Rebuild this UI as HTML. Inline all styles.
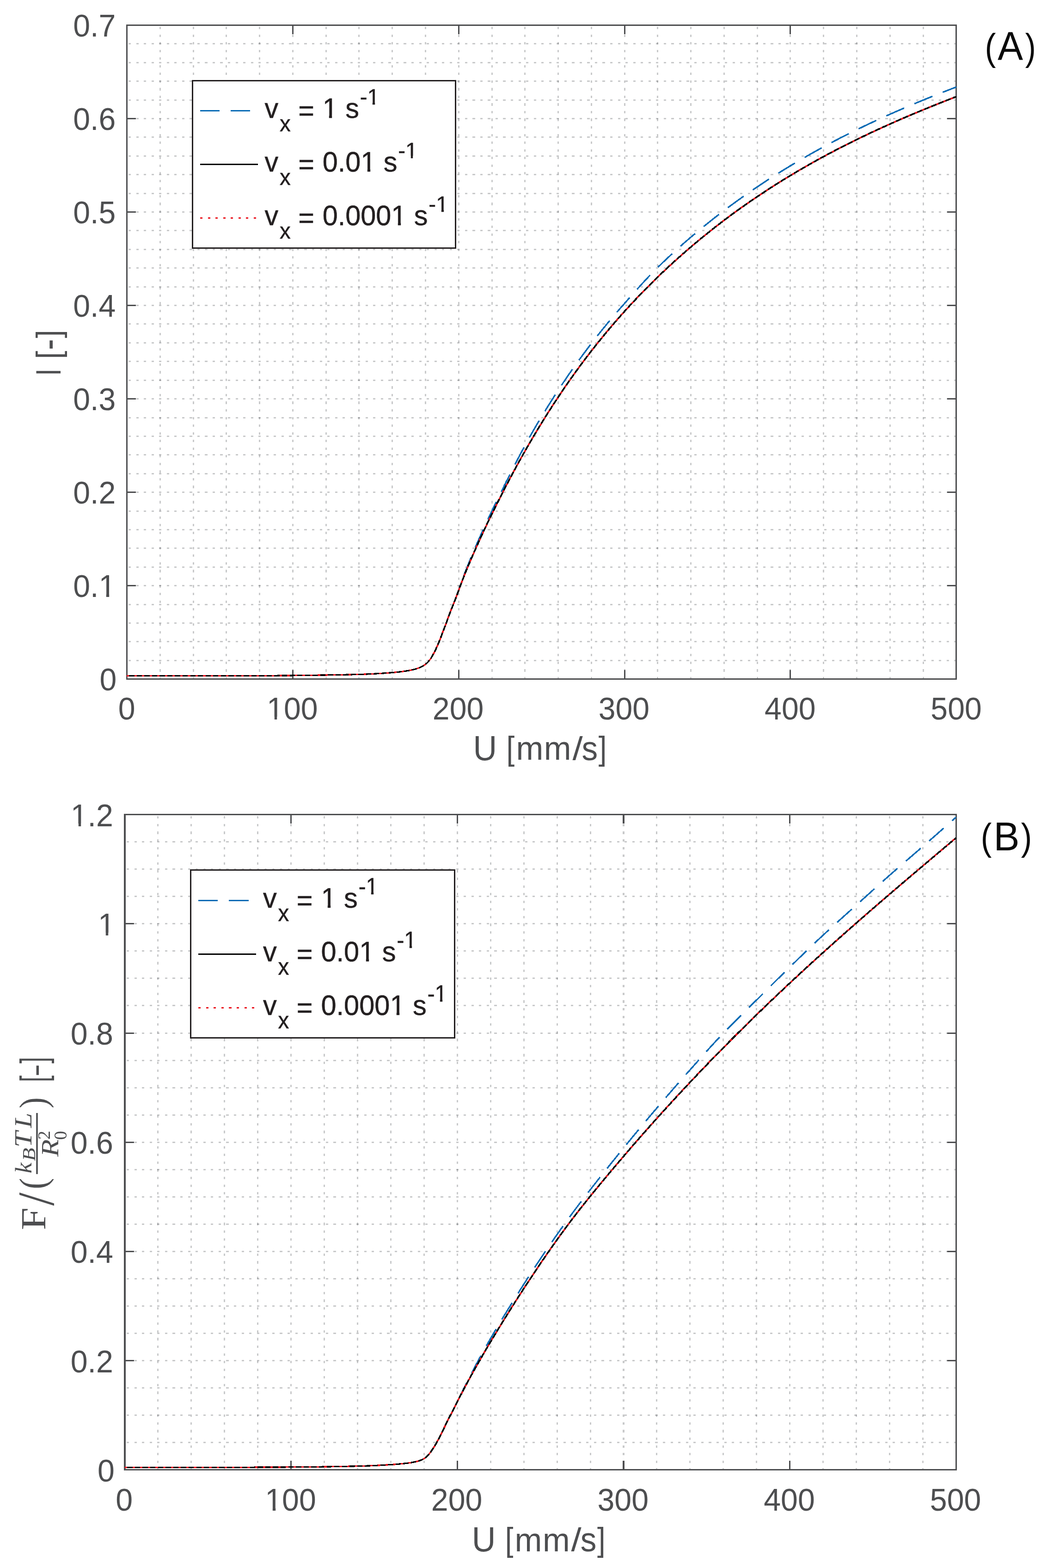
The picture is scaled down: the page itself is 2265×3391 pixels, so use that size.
<!DOCTYPE html>
<html lang="en"><head><meta charset="utf-8"><title>Figure</title>
<style>html,body{margin:0;padding:0;background:#fff}svg{display:block}</style></head><body>
<svg width="2265" height="3391" viewBox="0 0 2265 3391">
<rect width="2265" height="3391" fill="#fff"/>
<!-- panel A -->
<path d="M346.5 58V1468.68M418.5 58V1468.68M489.5 58V1468.68M561.5 58V1468.68M633.5 58V1468.68M705.5 58V1468.68M776.5 58V1468.68M848.5 58V1468.68M920.5 58V1468.68M992.5 58V1468.68M1064.5 58V1468.68M1135.5 58V1468.68M1207.5 58V1468.68M1279.5 58V1468.68M1351.5 58V1468.68M1422.5 58V1468.68M1494.5 58V1468.68M1566.5 58V1468.68M1638.5 58V1468.68M1709.5 58V1468.68M1781.5 58V1468.68M1853.5 58V1468.68M1925.5 58V1468.68M1997.5 58V1468.68" fill="none" stroke="#1a1c22" stroke-opacity="0.235" stroke-width="3" stroke-dasharray="5.2 11.34" shape-rendering="crispEdges"/>
<path d="M278 1428.5H2068.85M278 1387.5H2068.85M278 1347.5H2068.85M278 1307.5H2068.85M278 1266.5H2068.85M278 1226.5H2068.85M278 1185.5H2068.85M278 1145.5H2068.85M278 1105.5H2068.85M278 1064.5H2068.85M278 1024.5H2068.85M278 983.5H2068.85M278 943.5H2068.85M278 903.5H2068.85M278 862.5H2068.85M278 822.5H2068.85M278 781.5H2068.85M278 741.5H2068.85M278 700.5H2068.85M278 660.5H2068.85M278 620.5H2068.85M278 579.5H2068.85M278 539.5H2068.85M278 498.5H2068.85M278 458.5H2068.85M278 418.5H2068.85M278 377.5H2068.85M278 337.5H2068.85M278 296.5H2068.85M278 256.5H2068.85M278 216.5H2068.85M278 175.5H2068.85M278 135.5H2068.85M278 94.5H2068.85" fill="none" stroke="#1a1c22" stroke-opacity="0.235" stroke-width="3" stroke-dasharray="5.2 11.340" shape-rendering="crispEdges"/>
<path d="M633.5 1468.68V1449M633.5 54.5V74M992.5 1468.68V1449M992.5 54.5V74M1351.5 1468.68V1449M1351.5 54.5V74M1709.5 1468.68V1449M1709.5 54.5V74M274.5 1266.5H294M2068.85 1266.5H2049M274.5 1064.5H294M2068.85 1064.5H2049M274.5 862.5H294M2068.85 862.5H2049M274.5 660.5H294M2068.85 660.5H2049M274.5 458.5H294M2068.85 458.5H2049M274.5 256.5H294M2068.85 256.5H2049" fill="none" stroke="#4d4e50" stroke-width="3" shape-rendering="crispEdges"/>
<g fill="#4d4e50" shape-rendering="crispEdges"><rect x="273" y="53" width="3" height="1417"/><rect x="2067" y="53" width="3" height="1417"/><rect x="273" y="53" width="1797" height="3"/><rect x="273" y="1467" width="1797" height="3"/></g>
<clipPath id="aclip"><rect x="273.5" y="54.5" width="1796.35" height="1414.18"/></clipPath>
<g clip-path="url(#aclip)" fill="none" stroke-linejoin="round" shape-rendering="crispEdges">
<path d="M274 1461.67L276.5 1461.67L278.49 1461.67L280.49 1461.67L282.48 1461.67L284.48 1461.67L286.48 1461.67L288.47 1461.67L290.47 1461.67L292.46 1461.67L294.46 1461.67L296.46 1461.67L298.45 1461.67L300.45 1461.67L302.44 1461.67L304.44 1461.67L306.44 1461.66L308.43 1461.66L310.43 1461.66L312.42 1461.66L314.42 1461.66L316.41 1461.66L318.41 1461.66L320.41 1461.66L322.4 1461.66L324.4 1461.66L326.39 1461.66L328.39 1461.66L330.39 1461.66L332.38 1461.65L334.38 1461.65L336.37 1461.65L338.37 1461.65L340.37 1461.65L342.36 1461.65L344.36 1461.65L346.35 1461.65L348.35 1461.64L350.35 1461.64L352.34 1461.64L354.34 1461.64L356.33 1461.64L358.33 1461.64L360.33 1461.63L362.32 1461.63L364.32 1461.63L366.31 1461.63L368.31 1461.63L370.31 1461.63L372.3 1461.62L374.3 1461.62L376.29 1461.62L378.29 1461.62L380.28 1461.62L382.28 1461.61L384.28 1461.61L386.27 1461.61L388.27 1461.61L390.26 1461.61L392.26 1461.6L394.26 1461.6L396.25 1461.6L398.25 1461.6L400.24 1461.6L402.24 1461.59L404.24 1461.59L406.23 1461.59L408.23 1461.59L410.22 1461.58L412.22 1461.58L414.22 1461.58L416.21 1461.57L418.21 1461.57L420.2 1461.57L422.2 1461.57L424.2 1461.56L426.19 1461.56L428.19 1461.56L430.18 1461.56L432.18 1461.55L434.18 1461.55L436.17 1461.55L438.17 1461.54L440.16 1461.54L442.16 1461.54L444.15 1461.53L446.15 1461.53L448.15 1461.53L450.14 1461.52L452.14 1461.52L454.13 1461.52L456.13 1461.51L458.13 1461.51L460.12 1461.51L462.12 1461.5L464.11 1461.5L466.11 1461.5L468.11 1461.49L470.1 1461.49L472.1 1461.48L474.09 1461.48L476.09 1461.48L478.09 1461.47L480.08 1461.47L482.08 1461.47L484.07 1461.46L486.07 1461.46L488.07 1461.45L490.06 1461.45L492.06 1461.45L494.05 1461.44L496.05 1461.44L498.05 1461.43L500.04 1461.43L502.04 1461.42L504.03 1461.42L506.03 1461.42L508.02 1461.41L510.02 1461.41L512.02 1461.4L514.01 1461.4L516.01 1461.39L518 1461.39L520 1461.38L522 1461.38L523.99 1461.37L525.99 1461.37L527.98 1461.36L529.98 1461.36L531.98 1461.35L533.97 1461.35L535.97 1461.34L537.96 1461.34L539.96 1461.33L541.96 1461.33L543.95 1461.32L545.95 1461.32L547.94 1461.31L549.94 1461.31L551.94 1461.3L553.93 1461.3L555.93 1461.29L557.92 1461.29L559.92 1461.28L561.92 1461.28L563.91 1461.27L565.91 1461.27L567.9 1461.26L569.9 1461.25L571.9 1461.25L573.89 1461.24L575.89 1461.24L577.88 1461.23L579.88 1461.23L581.87 1461.22L583.87 1461.21L585.87 1461.21L587.86 1461.2L589.86 1461.19L591.85 1461.19L593.85 1461.18L595.85 1461.17L597.84 1461.16L599.84 1461.15L601.83 1461.13L603.83 1461.12L605.83 1461.11L607.82 1461.09L609.82 1461.08L611.81 1461.06L613.81 1461.04L615.81 1461.03L617.8 1461.01L619.8 1460.99L621.79 1460.97L623.79 1460.95L625.79 1460.93L627.78 1460.91L629.78 1460.89L631.77 1460.86L633.77 1460.84L635.77 1460.82L637.76 1460.8L639.76 1460.77L641.75 1460.75L643.75 1460.72L645.74 1460.7L647.74 1460.67L649.74 1460.65L651.73 1460.62L653.73 1460.6L655.72 1460.57L657.72 1460.54L659.72 1460.52L661.71 1460.49L663.71 1460.46L665.7 1460.44L667.7 1460.41L669.7 1460.38L671.69 1460.36L673.69 1460.33L675.68 1460.3L677.68 1460.27L679.68 1460.25L681.67 1460.22L683.67 1460.19L685.66 1460.17L687.66 1460.14L689.66 1460.11L691.65 1460.09L693.65 1460.06L695.64 1460.03L697.64 1460L699.64 1459.98L701.63 1459.95L703.63 1459.92L705.62 1459.89L707.62 1459.86L709.61 1459.83L711.61 1459.8L713.61 1459.77L715.6 1459.74L717.6 1459.71L719.59 1459.68L721.59 1459.65L723.59 1459.62L725.58 1459.58L727.58 1459.55L729.57 1459.52L731.57 1459.48L733.57 1459.45L735.56 1459.41L737.56 1459.38L739.55 1459.34L741.55 1459.3L743.55 1459.26L745.54 1459.22L747.54 1459.18L749.53 1459.14L751.53 1459.1L753.53 1459.06L755.52 1459.01L757.52 1458.97L759.51 1458.92L761.51 1458.87L763.51 1458.83L765.5 1458.78L767.5 1458.73L769.49 1458.68L771.49 1458.63L773.48 1458.57L775.48 1458.52L777.48 1458.46L779.47 1458.41L781.47 1458.35L783.46 1458.29L785.46 1458.22L787.46 1458.15L789.45 1458.08L791.45 1458.01L793.44 1457.93L795.44 1457.85L797.44 1457.76L799.43 1457.67L801.43 1457.58L803.42 1457.49L805.42 1457.39L807.42 1457.29L809.41 1457.18L811.41 1457.07L813.4 1456.96L815.4 1456.85L817.4 1456.73L819.39 1456.61L821.39 1456.49L823.38 1456.37L825.38 1456.24L827.38 1456.11L829.37 1455.97L831.37 1455.84L833.36 1455.7L835.36 1455.56L837.36 1455.41L839.35 1455.26L841.35 1455.11L843.34 1454.96L845.34 1454.8L847.33 1454.65L849.33 1454.49L851.33 1454.32L853.32 1454.14L855.32 1453.96L857.31 1453.76L859.31 1453.56L861.31 1453.34L863.3 1453.12L865.3 1452.89L867.29 1452.64L869.29 1452.39L871.29 1452.12L873.28 1451.85L875.28 1451.57L877.27 1451.27L879.27 1450.96L881.27 1450.65L883.26 1450.32L884.58 1450.09L885.26 1449.98L885.48 1449.94L886.39 1449.77L887.25 1449.61L887.29 1449.6L888.2 1449.43L889.1 1449.25L889.25 1449.22L890.01 1449.06L890.91 1448.87L891.25 1448.8L891.82 1448.67L892.72 1448.47L893.24 1448.35L893.63 1448.25L894.53 1448.03L895.24 1447.86L895.44 1447.81L896.34 1447.57L897.23 1447.34L897.25 1447.33L898.15 1447.08L899.05 1446.83L899.23 1446.78L899.96 1446.56L900.86 1446.29L901.23 1446.18L901.77 1446.01L902.67 1445.72L903.22 1445.54L903.58 1445.42L904.48 1445.11L905.22 1444.85L905.39 1444.79L906.29 1444.45L907.2 1444.09L907.21 1444.08L908.1 1443.71L909.01 1443.31L909.21 1443.22L909.91 1442.89L910.82 1442.45L911.2 1442.25L911.72 1441.99L912.63 1441.51L913.2 1441.2L913.53 1441.01L914.43 1440.5L915.2 1440.05L915.34 1439.96L916.24 1439.4L917.15 1438.83L917.19 1438.8L918.05 1438.23L918.96 1437.62L919.19 1437.46L919.86 1436.99L920.77 1436.34L921.18 1436.02L921.67 1435.63L922.58 1434.87L923.18 1434.33L923.48 1434.05L924.39 1433.18L925.18 1432.37L925.29 1432.25L926.2 1431.29L927.1 1430.27L927.17 1430.19L928.01 1429.22L928.91 1428.12L929.17 1427.8L929.81 1426.99L930.72 1425.76L931.16 1425.13L931.62 1424.45L932.53 1423.06L933.16 1422.05L933.43 1421.6L934.34 1420.08L935.16 1418.67" stroke="#0a6cb5" stroke-width="3.3" stroke-dasharray="42.1 24.06" stroke-dashoffset="0"/><path d="M935.16 1418.67L935.24 1418.51L936.15 1416.91L937.05 1415.27L937.15 1415.09L937.96 1413.61L938.86 1411.94L939.15 1411.41L939.77 1410.23L940.67 1408.45L941.14 1407.5L941.58 1406.61L942.48 1404.73L943.14 1403.33L943.39 1402.8L944.29 1400.83L945.14 1398.97L945.19 1398.84L946.1 1396.82L947 1394.76L947.13 1394.46L947.91 1392.64L948.81 1390.49L949.13 1389.73L949.72 1388.3L950.62 1386.07L951.12 1384.83L951.53 1383.82L952.43 1381.54L953.12 1379.77L953.34 1379.2L954.24 1376.79L955.12 1374.43L955.15 1374.35L956.05 1371.88L956.96 1369.43L957.11 1369.01L957.86 1367.01L958.77 1364.65L959.11 1363.77L959.67 1362.33L960.58 1360.04L961.1 1358.7L961.48 1357.75L962.38 1355.44L963.1 1353.59L963.29 1353.09L964.19 1350.69L965.1 1348.22L965.1 1348.22L966 1345.7L966.91 1343.15L967.09 1342.63L967.81 1340.6L968.72 1338.06L969.09 1337.04L969.62 1335.57L970.53 1333.1L971.08 1331.59L971.43 1330.64L972.34 1328.2L973.08 1326.21L973.24 1325.77L974.15 1323.38L975.05 1321.02L975.07 1320.96L975.96 1318.7L976.86 1316.44L977.07 1315.92L977.76 1314.21L978.67 1312L979.07 1311.02L979.57 1309.77L980.48 1307.51L981.06 1306.03L981.38 1305.2L982.29 1302.86L983.06 1300.84L983.19 1300.48L984.1 1298.09L985 1295.67L985.05 1295.53L985.91 1293.24L986.81 1290.79L987.05 1290.14L987.72 1288.32L988.62 1285.84L989.05 1284.66L989.53 1283.34L990.43 1280.84L991.04 1279.14L991.34 1278.33L992.24 1275.81L993.04 1273.58L995.03 1268.01L997.03 1262.45L999.03 1256.92L1001.02 1251.43L1003.02 1246.01L1005.01 1240.68L1007.01 1235.46L1009.01 1230.33L1011 1225.28L1013 1220.3L1014.99 1215.37L1016.99 1210.5L1018.99 1205.66L1020.98 1200.85L1022.98 1196.07L1024.97 1191.34L1026.97 1186.67L1028.97 1182.04L1030.96 1177.44L1032.96 1172.88L1034.95 1168.34L1036.95 1163.84L1038.94 1159.37L1040.94 1154.92L1042.94 1150.51L1044.93 1146.12L1046.93 1141.76L1048.92 1137.42L1050.92 1133.1L1052.92 1128.8L1054.91 1124.53L1056.91 1120.28L1058.9 1116.05L1060.9 1111.84L1062.9 1107.65L1064.89 1103.48L1066.89 1099.32L1068.88 1095.18L1070.88 1091.05L1072.88 1086.94L1074.87 1082.85L1076.87 1078.77L1078.86 1074.7L1080.86 1070.65L1082.86 1066.61L1084.85 1062.58L1086.85 1058.56L1088.84 1054.55L1090.84 1050.55L1092.84 1046.56L1094.83 1042.57L1096.83 1038.59L1098.82 1034.61L1100.82 1030.65L1102.82 1026.69L1104.81 1022.75L1106.81 1018.81L1108.8 1014.89L1110.8 1010.98L1112.79 1007.08L1114.79 1003.2L1116.79 999.33L1118.78 995.47L1120.78 991.64L1122.77 987.81L1124.77 984.01L1126.77 980.23L1128.76 976.46L1130.76 972.71L1132.75 968.98L1134.75 965.28L1136.75 961.6L1138.74 957.94L1140.74 954.3L1142.73 950.69L1144.73 947.1L1146.73 943.53L1148.72 940L1150.72 936.49L1152.71 933.01L1154.71 929.55L1156.71 926.12L1158.7 922.7L1160.7 919.3L1162.69 915.92L1164.69 912.56L1166.69 909.21L1168.68 905.88L1170.68 902.56L1172.67 899.26L1174.67 895.98L1176.66 892.71L1178.66 889.46L1180.66 886.23L1182.65 883.01L1184.65 879.8L1186.64 876.61L1188.64 873.44L1190.64 870.27L1192.63 867.13L1194.63 863.99L1196.62 860.87L1198.62 857.77L1200.62 854.67L1202.61 851.59L1204.61 848.53L1206.6 845.47L1208.6 842.43L1210.6 839.4L1212.59 836.39L1214.59 833.38L1216.58 830.39L1218.58 827.42L1220.58 824.46L1222.57 821.51L1224.57 818.57L1226.56 815.65L1228.56 812.74L1230.56 809.84L1232.55 806.96L1234.55 804.08L1236.54 801.22L1238.54 798.38L1240.53 795.54L1242.53 792.72L1244.53 789.91L1246.52 787.12L1248.52 784.33L1250.51 781.56L1252.51 778.8L1254.51 776.05L1256.5 773.32L1258.5 770.6L1260.49 767.88L1262.49 765.18L1264.49 762.5L1266.48 759.82L1268.48 757.16L1270.47 754.5L1272.47 751.86L1274.47 749.23L1276.46 746.61L1278.46 744.01L1280.45 741.41L1282.45 738.83L1284.45 736.26L1286.44 733.7L1288.44 731.15L1290.43 728.61L1292.43 726.09L1294.43 723.58L1296.42 721.07L1298.42 718.58L1300.41 716.1L1302.41 713.63L1304.41 711.17L1306.4 708.72L1308.4 706.28L1310.39 703.85L1312.39 701.44L1314.38 699.03L1316.38 696.63L1318.38 694.24L1320.37 691.85L1322.37 689.48L1324.36 687.12L1326.36 684.76L1328.36 682.42L1330.35 680.08L1332.35 677.75L1334.34 675.43L1336.34 673.11L1338.34 670.81L1340.33 668.51L1342.33 666.22L1344.32 663.94L1346.32 661.66L1348.32 659.39L1350.31 657.13L1352.31 654.88L1354.3 652.62L1356.3 650.36L1358.3 648.1L1360.29 645.84L1362.29 643.58L1364.28 641.33L1366.28 639.07L1368.28 636.82L1370.27 634.57L1372.27 632.32L1374.26 630.08L1376.26 627.84L1378.25 625.61L1380.25 623.38L1382.25 621.16L1384.24 618.95L1386.24 616.74L1388.23 614.55L1390.23 612.36L1392.23 610.18L1394.22 608.01L1396.22 605.85L1398.21 603.71L1400.21 601.57L1402.21 599.45L1404.2 597.34L1406.2 595.24L1408.19 593.16L1410.19 591.1L1412.19 589.05L1414.18 587.01L1416.18 584.99L1418.17 582.99L1420.17 581.01L1422.17 579.04L1424.16 577.09L1426.16 575.15L1428.15 573.22L1430.15 571.29L1432.15 569.38L1434.14 567.46L1436.14 565.56L1438.13 563.66L1440.13 561.77L1442.12 559.89L1444.12 558.02L1446.12 556.15L1448.11 554.29L1450.11 552.44L1452.1 550.59L1454.1 548.75L1456.1 546.92L1458.09 545.09L1460.09 543.27L1462.08 541.46L1464.08 539.65L1466.08 537.86L1468.07 536.06L1470.07 534.28L1472.06 532.5L1474.06 530.73L1476.06 528.97L1478.05 527.21L1480.05 525.46L1482.04 523.71L1484.04 521.98L1486.04 520.24L1488.03 518.52L1490.03 516.8L1492.02 515.09L1494.02 513.39L1496.02 511.69L1498.01 509.99L1500.01 508.31L1502 506.63L1504 504.95L1505.99 503.28L1507.99 501.62L1509.99 499.96L1511.98 498.31L1513.98 496.66L1515.97 495.02L1517.97 493.38L1519.97 491.75L1521.96 490.13L1523.96 488.51L1525.95 486.9L1527.95 485.29L1529.95 483.69L1531.94 482.09L1533.94 480.5L1535.93 478.91L1537.93 477.33L1539.93 475.75L1541.92 474.18L1543.92 472.61L1545.91 471.05L1547.91 469.5L1549.91 467.95L1551.9 466.4L1553.9 464.86L1555.89 463.32L1557.89 461.79L1559.89 460.27L1561.88 458.75L1563.88 457.23L1565.87 455.72L1567.87 454.22L1569.87 452.72L1571.86 451.22L1573.86 449.73L1575.85 448.25L1577.85 446.77L1579.84 445.29L1581.84 443.82L1583.84 442.35L1585.83 440.89L1587.83 439.43L1589.82 437.98L1591.82 436.53L1593.82 435.09L1595.81 433.65L1597.81 432.22L1599.8 430.79L1601.8 429.37L1603.8 427.95L1605.79 426.53L1607.79 425.12L1609.78 423.72L1611.78 422.31L1613.78 420.92L1615.77 419.52L1617.77 418.14L1619.76 416.75L1621.76 415.37L1623.76 414L1625.75 412.63L1627.75 411.26L1629.74 409.9L1631.74 408.54L1633.74 407.19L1635.73 405.84L1637.73 404.5L1639.72 403.16L1641.72 401.82L1643.71 400.49L1645.71 399.16L1647.71 397.84L1649.7 396.52L1651.7 395.2L1653.69 393.89L1655.69 392.58L1657.69 391.28L1659.68 389.98L1661.68 388.69L1663.67 387.4L1665.67 386.11L1667.67 384.83L1669.66 383.55L1671.66 382.27L1673.65 381L1675.65 379.73L1677.65 378.47L1679.64 377.21L1681.64 375.96L1683.63 374.7L1685.63 373.46L1687.63 372.21L1689.62 370.97L1691.62 369.74L1693.61 368.5L1695.61 367.27L1697.61 366.05L1699.6 364.83L1701.6 363.61L1703.59 362.39L1705.59 361.18L1707.58 359.98L1709.58 358.77L1711.58 357.57L1713.57 356.38L1715.57 355.18L1717.56 353.99L1719.56 352.81L1721.56 351.63L1723.55 350.45L1725.55 349.27L1727.54 348.1L1729.54 346.93L1731.54 345.76L1733.53 344.6L1735.53 343.44L1737.52 342.28L1739.52 341.13L1741.52 339.98L1743.51 338.84L1745.51 337.69L1747.5 336.55L1749.5 335.42L1751.5 334.28L1753.49 333.16L1755.49 332.03L1757.48 330.91L1759.48 329.79L1761.48 328.67L1763.47 327.56L1765.47 326.45L1767.46 325.34L1769.46 324.23L1771.45 323.13L1773.45 322.04L1775.45 320.94L1777.44 319.85L1779.44 318.76L1781.43 317.68L1783.43 316.6L1785.43 315.52L1787.42 314.44L1789.42 313.37L1791.41 312.3L1793.41 311.23L1795.41 310.17L1797.4 309.11L1799.4 308.05L1801.39 307L1803.39 305.95L1805.39 304.9L1807.38 303.86L1809.38 302.81L1811.37 301.77L1813.37 300.74L1815.37 299.71L1817.36 298.68L1819.36 297.65L1821.35 296.63L1823.35 295.6L1825.35 294.59L1827.34 293.57L1829.34 292.56L1831.33 291.55L1833.33 290.54L1835.33 289.54L1837.32 288.54L1839.32 287.54L1841.31 286.55L1843.31 285.56L1845.3 284.57L1847.3 283.58L1849.3 282.6L1851.29 281.62L1853.29 280.64L1855.28 279.67L1857.28 278.7L1859.28 277.73L1861.27 276.76L1863.27 275.8L1865.26 274.83L1867.26 273.88L1869.26 272.92L1871.25 271.97L1873.25 271.02L1875.24 270.07L1877.24 269.12L1879.24 268.18L1881.23 267.24L1883.23 266.3L1885.22 265.36L1887.22 264.43L1889.22 263.5L1891.21 262.57L1893.21 261.64L1895.2 260.72L1897.2 259.8L1899.2 258.88L1901.19 257.96L1903.19 257.05L1905.18 256.14L1907.18 255.23L1909.17 254.32L1911.17 253.41L1913.17 252.51L1915.16 251.61L1917.16 250.71L1919.15 249.82L1921.15 248.92L1923.15 248.03L1925.14 247.14L1927.14 246.26L1929.13 245.37L1931.13 244.49L1933.13 243.61L1935.12 242.73L1937.12 241.86L1939.11 240.98L1941.11 240.11L1943.11 239.24L1945.1 238.37L1947.1 237.51L1949.09 236.64L1951.09 235.78L1953.09 234.92L1955.08 234.07L1957.08 233.21L1959.07 232.36L1961.07 231.51L1963.07 230.66L1965.06 229.81L1967.06 228.96L1969.05 228.12L1971.05 227.28L1973.04 226.44L1975.04 225.6L1977.04 224.77L1979.03 223.93L1981.03 223.1L1983.02 222.27L1985.02 221.44L1987.02 220.61L1989.01 219.79L1991.01 218.97L1993 218.15L1995 217.33L1997 216.51L1998.99 215.69L2000.99 214.88L2002.98 214.07L2004.98 213.26L2006.98 212.45L2008.97 211.64L2010.97 210.84L2012.96 210.03L2014.96 209.23L2016.96 208.43L2018.95 207.63L2020.95 206.83L2022.94 206.04L2024.94 205.25L2026.94 204.45L2028.93 203.66L2030.93 202.87L2032.92 202.09L2034.92 201.3L2036.91 200.52L2038.91 199.73L2040.91 198.95L2042.9 198.17L2044.9 197.4L2046.89 196.62L2048.89 195.84L2050.89 195.07L2052.88 194.3L2054.88 193.53L2056.87 192.76L2058.87 191.99L2060.87 191.22L2062.86 190.46L2064.86 189.7L2066.85 188.93L2068.85 188.17" stroke="#0a6cb5" stroke-width="3.3" stroke-dasharray="42.1 24.06" stroke-dashoffset="11.45"/>
<path d="M274 1461.67L276.5 1461.67L278.49 1461.67L280.49 1461.67L282.48 1461.67L284.48 1461.67L286.48 1461.67L288.47 1461.67L290.47 1461.67L292.46 1461.67L294.46 1461.67L296.46 1461.67L298.45 1461.67L300.45 1461.67L302.44 1461.67L304.44 1461.67L306.44 1461.66L308.43 1461.66L310.43 1461.66L312.42 1461.66L314.42 1461.66L316.41 1461.66L318.41 1461.66L320.41 1461.66L322.4 1461.66L324.4 1461.66L326.39 1461.66L328.39 1461.66L330.39 1461.66L332.38 1461.65L334.38 1461.65L336.37 1461.65L338.37 1461.65L340.37 1461.65L342.36 1461.65L344.36 1461.65L346.35 1461.65L348.35 1461.64L350.35 1461.64L352.34 1461.64L354.34 1461.64L356.33 1461.64L358.33 1461.64L360.33 1461.63L362.32 1461.63L364.32 1461.63L366.31 1461.63L368.31 1461.63L370.31 1461.63L372.3 1461.62L374.3 1461.62L376.29 1461.62L378.29 1461.62L380.28 1461.62L382.28 1461.61L384.28 1461.61L386.27 1461.61L388.27 1461.61L390.26 1461.61L392.26 1461.6L394.26 1461.6L396.25 1461.6L398.25 1461.6L400.24 1461.6L402.24 1461.59L404.24 1461.59L406.23 1461.59L408.23 1461.59L410.22 1461.58L412.22 1461.58L414.22 1461.58L416.21 1461.57L418.21 1461.57L420.2 1461.57L422.2 1461.57L424.2 1461.56L426.19 1461.56L428.19 1461.56L430.18 1461.56L432.18 1461.55L434.18 1461.55L436.17 1461.55L438.17 1461.54L440.16 1461.54L442.16 1461.54L444.15 1461.53L446.15 1461.53L448.15 1461.53L450.14 1461.52L452.14 1461.52L454.13 1461.52L456.13 1461.51L458.13 1461.51L460.12 1461.51L462.12 1461.5L464.11 1461.5L466.11 1461.5L468.11 1461.49L470.1 1461.49L472.1 1461.48L474.09 1461.48L476.09 1461.48L478.09 1461.47L480.08 1461.47L482.08 1461.47L484.07 1461.46L486.07 1461.46L488.07 1461.45L490.06 1461.45L492.06 1461.45L494.05 1461.44L496.05 1461.44L498.05 1461.43L500.04 1461.43L502.04 1461.42L504.03 1461.42L506.03 1461.42L508.02 1461.41L510.02 1461.41L512.02 1461.4L514.01 1461.4L516.01 1461.39L518 1461.39L520 1461.38L522 1461.38L523.99 1461.37L525.99 1461.37L527.98 1461.36L529.98 1461.36L531.98 1461.35L533.97 1461.35L535.97 1461.34L537.96 1461.34L539.96 1461.33L541.96 1461.33L543.95 1461.32L545.95 1461.32L547.94 1461.31L549.94 1461.31L551.94 1461.3L553.93 1461.3L555.93 1461.29L557.92 1461.29L559.92 1461.28L561.92 1461.28L563.91 1461.27L565.91 1461.27L567.9 1461.26L569.9 1461.25L571.9 1461.25L573.89 1461.24L575.89 1461.24L577.88 1461.23L579.88 1461.23L581.87 1461.22L583.87 1461.21L585.87 1461.21L587.86 1461.2L589.86 1461.19L591.85 1461.19L593.85 1461.18L595.85 1461.17L597.84 1461.16L599.84 1461.15L601.83 1461.13L603.83 1461.12L605.83 1461.11L607.82 1461.09L609.82 1461.08L611.81 1461.06L613.81 1461.04L615.81 1461.03L617.8 1461.01L619.8 1460.99L621.79 1460.97L623.79 1460.95L625.79 1460.93L627.78 1460.91L629.78 1460.89L631.77 1460.86L633.77 1460.84L635.77 1460.82L637.76 1460.8L639.76 1460.77L641.75 1460.75L643.75 1460.72L645.74 1460.7L647.74 1460.67L649.74 1460.65L651.73 1460.62L653.73 1460.6L655.72 1460.57L657.72 1460.54L659.72 1460.52L661.71 1460.49L663.71 1460.46L665.7 1460.44L667.7 1460.41L669.7 1460.38L671.69 1460.36L673.69 1460.33L675.68 1460.3L677.68 1460.27L679.68 1460.25L681.67 1460.22L683.67 1460.19L685.66 1460.17L687.66 1460.14L689.66 1460.11L691.65 1460.09L693.65 1460.06L695.64 1460.03L697.64 1460L699.64 1459.98L701.63 1459.95L703.63 1459.92L705.62 1459.89L707.62 1459.86L709.61 1459.83L711.61 1459.8L713.61 1459.77L715.6 1459.74L717.6 1459.71L719.59 1459.68L721.59 1459.65L723.59 1459.62L725.58 1459.58L727.58 1459.55L729.57 1459.52L731.57 1459.48L733.57 1459.45L735.56 1459.41L737.56 1459.38L739.55 1459.34L741.55 1459.3L743.55 1459.26L745.54 1459.22L747.54 1459.18L749.53 1459.14L751.53 1459.1L753.53 1459.06L755.52 1459.01L757.52 1458.97L759.51 1458.92L761.51 1458.87L763.51 1458.83L765.5 1458.78L767.5 1458.73L769.49 1458.68L771.49 1458.63L773.48 1458.57L775.48 1458.52L777.48 1458.46L779.47 1458.41L781.47 1458.35L783.46 1458.29L785.46 1458.22L787.46 1458.15L789.45 1458.08L791.45 1458.01L793.44 1457.93L795.44 1457.85L797.44 1457.76L799.43 1457.67L801.43 1457.58L803.42 1457.49L805.42 1457.39L807.42 1457.29L809.41 1457.18L811.41 1457.07L813.4 1456.96L815.4 1456.85L817.4 1456.73L819.39 1456.61L821.39 1456.49L823.38 1456.37L825.38 1456.24L827.38 1456.11L829.37 1455.97L831.37 1455.84L833.36 1455.7L835.36 1455.56L837.36 1455.41L839.35 1455.26L841.35 1455.11L843.34 1454.96L845.34 1454.8L847.33 1454.65L849.33 1454.49L851.33 1454.32L853.32 1454.14L855.32 1453.96L857.31 1453.76L859.31 1453.56L861.31 1453.34L863.3 1453.12L865.3 1452.89L867.29 1452.64L869.29 1452.39L871.29 1452.12L873.28 1451.85L875.28 1451.57L877.27 1451.27L879.27 1450.96L881.27 1450.65L883.26 1450.32L884.58 1450.09L885.26 1449.98L885.48 1449.94L886.39 1449.77L887.25 1449.61L887.29 1449.6L888.2 1449.43L889.1 1449.25L889.25 1449.22L890.01 1449.06L890.91 1448.87L891.25 1448.8L891.82 1448.67L892.72 1448.47L893.24 1448.35L893.63 1448.25L894.53 1448.03L895.24 1447.86L895.44 1447.81L896.34 1447.57L897.23 1447.34L897.25 1447.33L898.15 1447.08L899.05 1446.83L899.23 1446.78L899.96 1446.56L900.86 1446.29L901.23 1446.18L901.77 1446.01L902.67 1445.72L903.22 1445.54L903.58 1445.42L904.48 1445.11L905.22 1444.85L905.39 1444.79L906.29 1444.45L907.2 1444.09L907.21 1444.08L908.1 1443.71L909.01 1443.31L909.21 1443.22L909.91 1442.89L910.82 1442.45L911.2 1442.25L911.72 1441.99L912.63 1441.51L913.2 1441.2L913.53 1441.01L914.43 1440.5L915.2 1440.05L915.34 1439.96L916.24 1439.4L917.15 1438.83L917.19 1438.8L918.05 1438.23L918.96 1437.62L919.19 1437.46L919.86 1436.99L920.77 1436.34L921.18 1436.02L921.67 1435.63L922.58 1434.87L923.18 1434.33L923.48 1434.05L924.39 1433.18L925.18 1432.37L925.29 1432.25L926.2 1431.29L927.1 1430.27L927.17 1430.19L928.01 1429.22L928.91 1428.12L929.17 1427.8L929.81 1426.99L930.72 1425.76L931.16 1425.13L931.62 1424.45L932.53 1423.06L933.16 1422.05L933.43 1421.6L934.34 1420.08L935.16 1418.67" stroke="#000" stroke-width="3.3"/><path d="M935.16 1418.67L935.24 1418.51L936.15 1416.91L937.05 1415.27L937.15 1415.09L937.96 1413.61L938.86 1411.94L939.15 1411.41L939.77 1410.23L940.67 1408.45L941.14 1407.5L941.58 1406.61L942.48 1404.73L943.14 1403.33L943.39 1402.8L944.29 1400.83L945.14 1398.97L945.19 1398.84L946.1 1396.82L947 1394.76L947.13 1394.46L947.91 1392.64L948.81 1390.49L949.13 1389.73L949.72 1388.3L950.62 1386.07L951.12 1384.83L951.53 1383.82L952.43 1381.54L953.12 1379.77L953.34 1379.2L954.24 1376.79L955.12 1374.43L955.15 1374.35L956.05 1371.88L956.96 1369.43L957.11 1369.01L957.86 1367.01L958.77 1364.65L959.11 1363.77L959.67 1362.33L960.58 1360.04L961.1 1358.7L961.48 1357.75L962.38 1355.44L963.1 1353.59L963.29 1353.09L964.19 1350.69L965.1 1348.22L965.1 1348.22L966 1345.7L966.91 1343.15L967.09 1342.63L967.81 1340.6L968.72 1338.06L969.09 1337.04L969.62 1335.57L970.53 1333.1L971.08 1331.59L971.43 1330.64L972.34 1328.2L973.08 1326.21L973.24 1325.77L974.15 1323.38L975.05 1321.02L975.07 1320.96L975.96 1318.71L976.86 1316.46L977.07 1315.95L977.76 1314.26L978.67 1312.06L979.07 1311.1L979.57 1309.87L980.48 1307.64L981.06 1306.18L981.38 1305.37L982.29 1303.07L983.06 1301.09L983.19 1300.74L984.1 1298.4L985 1296.04L985.05 1295.91L985.91 1293.67L986.81 1291.28L987.05 1290.65L987.72 1288.88L988.62 1286.47L989.05 1285.33L989.53 1284.05L990.43 1281.62L991.04 1279.98L991.34 1279.19L992.24 1276.76L993.04 1274.61L995.03 1269.24L997.03 1263.88L999.03 1258.57L1001.02 1253.3L1003.02 1248.11L1005.01 1243.01L1007.01 1238.02L1009.01 1233.13L1011 1228.31L1013 1223.55L1014.99 1218.85L1016.99 1214.18L1018.99 1209.55L1020.98 1204.93L1022.98 1200.33L1024.97 1195.77L1026.97 1191.24L1028.97 1186.74L1030.96 1182.26L1032.96 1177.82L1034.95 1173.4L1036.95 1169L1038.94 1164.63L1040.94 1160.29L1042.94 1155.98L1044.93 1151.69L1046.93 1147.42L1048.92 1143.17L1050.92 1138.94L1052.92 1134.73L1054.91 1130.55L1056.91 1126.39L1058.9 1122.25L1060.9 1118.12L1062.9 1114.02L1064.89 1109.93L1066.89 1105.86L1068.88 1101.81L1070.88 1097.78L1072.88 1093.77L1074.87 1089.77L1076.87 1085.79L1078.86 1081.83L1080.86 1077.88L1082.86 1073.95L1084.85 1070.03L1086.85 1066.14L1088.84 1062.25L1090.84 1058.39L1092.84 1054.54L1094.83 1050.71L1096.83 1046.89L1098.82 1043.09L1100.82 1039.3L1102.82 1035.53L1104.81 1031.78L1106.81 1028.04L1108.8 1024.31L1110.8 1020.61L1112.79 1016.92L1114.79 1013.24L1116.79 1009.58L1118.78 1005.93L1120.78 1002.3L1122.77 998.69L1124.77 995.09L1126.77 991.51L1128.76 987.94L1130.76 984.39L1132.75 980.85L1134.75 977.33L1136.75 973.82L1138.74 970.33L1140.74 966.85L1142.73 963.39L1144.73 959.94L1146.73 956.51L1148.72 953.09L1150.72 949.69L1152.71 946.3L1154.71 942.93L1156.71 939.57L1158.7 936.22L1160.7 932.89L1162.69 929.58L1164.69 926.28L1166.69 922.99L1168.68 919.72L1170.68 916.46L1172.67 913.22L1174.67 909.99L1176.66 906.77L1178.66 903.57L1180.66 900.38L1182.65 897.21L1184.65 894.05L1186.64 890.9L1188.64 887.77L1190.64 884.65L1192.63 881.55L1194.63 878.46L1196.62 875.38L1198.62 872.32L1200.62 869.27L1202.61 866.23L1204.61 863.21L1206.6 860.2L1208.6 857.2L1210.6 854.22L1212.59 851.25L1214.59 848.29L1216.58 845.34L1218.58 842.41L1220.58 839.49L1222.57 836.59L1224.57 833.69L1226.56 830.81L1228.56 827.94L1230.56 825.09L1232.55 822.25L1234.55 819.41L1236.54 816.6L1238.54 813.79L1240.53 811L1242.53 808.22L1244.53 805.45L1246.52 802.69L1248.52 799.94L1250.51 797.21L1252.51 794.49L1254.51 791.78L1256.5 789.08L1258.5 786.39L1260.49 783.72L1262.49 781.06L1264.49 778.4L1266.48 775.76L1268.48 773.13L1270.47 770.52L1272.47 767.91L1274.47 765.31L1276.46 762.73L1278.46 760.15L1280.45 757.59L1282.45 755.04L1284.45 752.5L1286.44 749.97L1288.44 747.45L1290.43 744.94L1292.43 742.44L1294.43 739.95L1296.42 737.48L1298.42 735.01L1300.41 732.55L1302.41 730.1L1304.41 727.67L1306.4 725.24L1308.4 722.82L1310.39 720.42L1312.39 718.02L1314.38 715.63L1316.38 713.26L1318.38 710.89L1320.37 708.53L1322.37 706.18L1324.36 703.84L1326.36 701.52L1328.36 699.2L1330.35 696.89L1332.35 694.58L1334.34 692.29L1336.34 690.01L1338.34 687.74L1340.33 685.47L1342.33 683.22L1344.32 680.97L1346.32 678.74L1348.32 676.51L1350.31 674.29L1352.31 672.08L1354.3 669.87L1356.3 667.68L1358.3 665.5L1360.29 663.32L1362.29 661.15L1364.28 658.99L1366.28 656.84L1368.28 654.7L1370.27 652.57L1372.27 650.44L1374.26 648.32L1376.26 646.21L1378.25 644.11L1380.25 642.02L1382.25 639.94L1384.24 637.86L1386.24 635.79L1388.23 633.73L1390.23 631.67L1392.23 629.63L1394.22 627.59L1396.22 625.56L1398.21 623.54L1400.21 621.52L1402.21 619.51L1404.2 617.51L1406.2 615.52L1408.19 613.54L1410.19 611.56L1412.19 609.59L1414.18 607.62L1416.18 605.67L1418.17 603.72L1420.17 601.78L1422.17 599.84L1424.16 597.91L1426.16 595.99L1428.15 594.08L1430.15 592.17L1432.15 590.27L1434.14 588.38L1436.14 586.5L1438.13 584.62L1440.13 582.74L1442.12 580.88L1444.12 579.02L1446.12 577.17L1448.11 575.32L1450.11 573.48L1452.1 571.65L1454.1 569.82L1456.1 568L1458.09 566.19L1460.09 564.38L1462.08 562.58L1464.08 560.78L1466.08 559L1468.07 557.21L1470.07 555.44L1472.06 553.67L1474.06 551.9L1476.06 550.15L1478.05 548.4L1480.05 546.65L1482.04 544.91L1484.04 543.18L1486.04 541.45L1488.03 539.73L1490.03 538.01L1492.02 536.3L1494.02 534.6L1496.02 532.9L1498.01 531.21L1500.01 529.52L1502 527.84L1504 526.16L1505.99 524.49L1507.99 522.83L1509.99 521.17L1511.98 519.52L1513.98 517.87L1515.97 516.23L1517.97 514.59L1519.97 512.96L1521.96 511.33L1523.96 509.71L1525.95 508.1L1527.95 506.49L1529.95 504.88L1531.94 503.28L1533.94 501.69L1535.93 500.1L1537.93 498.52L1539.93 496.94L1541.92 495.37L1543.92 493.8L1545.91 492.24L1547.91 490.68L1549.91 489.13L1551.9 487.58L1553.9 486.04L1555.89 484.5L1557.89 482.97L1559.89 481.44L1561.88 479.92L1563.88 478.4L1565.87 476.88L1567.87 475.38L1569.87 473.87L1571.86 472.38L1573.86 470.88L1575.85 469.39L1577.85 467.91L1579.84 466.43L1581.84 464.96L1583.84 463.49L1585.83 462.03L1587.83 460.57L1589.82 459.11L1591.82 457.66L1593.82 456.21L1595.81 454.77L1597.81 453.34L1599.8 451.91L1601.8 450.48L1603.8 449.06L1605.79 447.64L1607.79 446.23L1609.78 444.82L1611.78 443.41L1613.78 442.01L1615.77 440.62L1617.77 439.23L1619.76 437.84L1621.76 436.46L1623.76 435.08L1625.75 433.71L1627.75 432.34L1629.74 430.97L1631.74 429.61L1633.74 428.26L1635.73 426.91L1637.73 425.56L1639.72 424.22L1641.72 422.88L1643.71 421.54L1645.71 420.21L1647.71 418.89L1649.7 417.57L1651.7 416.25L1653.69 414.94L1655.69 413.63L1657.69 412.32L1659.68 411.02L1661.68 409.72L1663.67 408.43L1665.67 407.14L1667.67 405.86L1669.66 404.58L1671.66 403.3L1673.65 402.03L1675.65 400.76L1677.65 399.49L1679.64 398.23L1681.64 396.98L1683.63 395.72L1685.63 394.47L1687.63 393.23L1689.62 391.99L1691.62 390.75L1693.61 389.52L1695.61 388.29L1697.61 387.06L1699.6 385.84L1701.6 384.62L1703.59 383.41L1705.59 382.2L1707.58 380.99L1709.58 379.78L1711.58 378.58L1713.57 377.39L1715.57 376.2L1717.56 375.01L1719.56 373.82L1721.56 372.64L1723.55 371.46L1725.55 370.29L1727.54 369.12L1729.54 367.95L1731.54 366.78L1733.53 365.62L1735.53 364.47L1737.52 363.31L1739.52 362.16L1741.52 361.02L1743.51 359.87L1745.51 358.74L1747.5 357.6L1749.5 356.47L1751.5 355.34L1753.49 354.21L1755.49 353.09L1757.48 351.97L1759.48 350.85L1761.48 349.74L1763.47 348.63L1765.47 347.52L1767.46 346.42L1769.46 345.32L1771.45 344.22L1773.45 343.13L1775.45 342.04L1777.44 340.95L1779.44 339.87L1781.43 338.79L1783.43 337.71L1785.43 336.64L1787.42 335.57L1789.42 334.5L1791.41 333.43L1793.41 332.37L1795.41 331.31L1797.4 330.25L1799.4 329.2L1801.39 328.15L1803.39 327.1L1805.39 326.06L1807.38 325.02L1809.38 323.98L1811.37 322.95L1813.37 321.91L1815.37 320.88L1817.36 319.86L1819.36 318.83L1821.35 317.81L1823.35 316.79L1825.35 315.78L1827.34 314.77L1829.34 313.76L1831.33 312.75L1833.33 311.75L1835.33 310.75L1837.32 309.75L1839.32 308.75L1841.31 307.76L1843.31 306.77L1845.3 305.78L1847.3 304.79L1849.3 303.81L1851.29 302.83L1853.29 301.85L1855.28 300.88L1857.28 299.91L1859.28 298.94L1861.27 297.97L1863.27 297.01L1865.26 296.05L1867.26 295.09L1869.26 294.13L1871.25 293.18L1873.25 292.22L1875.24 291.28L1877.24 290.33L1879.24 289.38L1881.23 288.44L1883.23 287.5L1885.22 286.57L1887.22 285.63L1889.22 284.7L1891.21 283.77L1893.21 282.84L1895.2 281.92L1897.2 280.99L1899.2 280.07L1901.19 279.16L1903.19 278.24L1905.18 277.33L1907.18 276.42L1909.17 275.51L1911.17 274.6L1913.17 273.7L1915.16 272.79L1917.16 271.89L1919.15 270.99L1921.15 270.1L1923.15 269.21L1925.14 268.31L1927.14 267.42L1929.13 266.54L1931.13 265.65L1933.13 264.77L1935.12 263.89L1937.12 263.01L1939.11 262.13L1941.11 261.26L1943.11 260.38L1945.1 259.51L1947.1 258.65L1949.09 257.78L1951.09 256.91L1953.09 256.05L1955.08 255.19L1957.08 254.33L1959.07 253.47L1961.07 252.62L1963.07 251.77L1965.06 250.92L1967.06 250.07L1969.05 249.22L1971.05 248.37L1973.04 247.53L1975.04 246.69L1977.04 245.85L1979.03 245.01L1981.03 244.17L1983.02 243.34L1985.02 242.51L1987.02 241.67L1989.01 240.85L1991.01 240.02L1993 239.19L1995 238.37L1997 237.55L1998.99 236.72L2000.99 235.91L2002.98 235.09L2004.98 234.27L2006.98 233.46L2008.97 232.65L2010.97 231.84L2012.96 231.03L2014.96 230.22L2016.96 229.41L2018.95 228.61L2020.95 227.81L2022.94 227L2024.94 226.2L2026.94 225.41L2028.93 224.61L2030.93 223.82L2032.92 223.02L2034.92 222.23L2036.91 221.44L2038.91 220.65L2040.91 219.86L2042.9 219.08L2044.9 218.29L2046.89 217.51L2048.89 216.73L2050.89 215.94L2052.88 215.17L2054.88 214.39L2056.87 213.61L2058.87 212.84L2060.87 212.06L2062.86 211.29L2064.86 210.52L2066.85 209.75L2068.85 208.98" stroke="#000" stroke-width="3.6"/>
<path d="M274 1461.67L276.5 1461.67L278.49 1461.67L280.49 1461.67L282.48 1461.67L284.48 1461.67L286.48 1461.67L288.47 1461.67L290.47 1461.67L292.46 1461.67L294.46 1461.67L296.46 1461.67L298.45 1461.67L300.45 1461.67L302.44 1461.67L304.44 1461.67L306.44 1461.66L308.43 1461.66L310.43 1461.66L312.42 1461.66L314.42 1461.66L316.41 1461.66L318.41 1461.66L320.41 1461.66L322.4 1461.66L324.4 1461.66L326.39 1461.66L328.39 1461.66L330.39 1461.66L332.38 1461.65L334.38 1461.65L336.37 1461.65L338.37 1461.65L340.37 1461.65L342.36 1461.65L344.36 1461.65L346.35 1461.65L348.35 1461.64L350.35 1461.64L352.34 1461.64L354.34 1461.64L356.33 1461.64L358.33 1461.64L360.33 1461.63L362.32 1461.63L364.32 1461.63L366.31 1461.63L368.31 1461.63L370.31 1461.63L372.3 1461.62L374.3 1461.62L376.29 1461.62L378.29 1461.62L380.28 1461.62L382.28 1461.61L384.28 1461.61L386.27 1461.61L388.27 1461.61L390.26 1461.61L392.26 1461.6L394.26 1461.6L396.25 1461.6L398.25 1461.6L400.24 1461.6L402.24 1461.59L404.24 1461.59L406.23 1461.59L408.23 1461.59L410.22 1461.58L412.22 1461.58L414.22 1461.58L416.21 1461.57L418.21 1461.57L420.2 1461.57L422.2 1461.57L424.2 1461.56L426.19 1461.56L428.19 1461.56L430.18 1461.56L432.18 1461.55L434.18 1461.55L436.17 1461.55L438.17 1461.54L440.16 1461.54L442.16 1461.54L444.15 1461.53L446.15 1461.53L448.15 1461.53L450.14 1461.52L452.14 1461.52L454.13 1461.52L456.13 1461.51L458.13 1461.51L460.12 1461.51L462.12 1461.5L464.11 1461.5L466.11 1461.5L468.11 1461.49L470.1 1461.49L472.1 1461.48L474.09 1461.48L476.09 1461.48L478.09 1461.47L480.08 1461.47L482.08 1461.47L484.07 1461.46L486.07 1461.46L488.07 1461.45L490.06 1461.45L492.06 1461.45L494.05 1461.44L496.05 1461.44L498.05 1461.43L500.04 1461.43L502.04 1461.42L504.03 1461.42L506.03 1461.42L508.02 1461.41L510.02 1461.41L512.02 1461.4L514.01 1461.4L516.01 1461.39L518 1461.39L520 1461.38L522 1461.38L523.99 1461.37L525.99 1461.37L527.98 1461.36L529.98 1461.36L531.98 1461.35L533.97 1461.35L535.97 1461.34L537.96 1461.34L539.96 1461.33L541.96 1461.33L543.95 1461.32L545.95 1461.32L547.94 1461.31L549.94 1461.31L551.94 1461.3L553.93 1461.3L555.93 1461.29L557.92 1461.29L559.92 1461.28L561.92 1461.28L563.91 1461.27L565.91 1461.27L567.9 1461.26L569.9 1461.25L571.9 1461.25L573.89 1461.24L575.89 1461.24L577.88 1461.23L579.88 1461.23L581.87 1461.22L583.87 1461.21L585.87 1461.21L587.86 1461.2L589.86 1461.19L591.85 1461.19L593.85 1461.18L595.85 1461.17L597.84 1461.16L599.84 1461.15L601.83 1461.13L603.83 1461.12L605.83 1461.11L607.82 1461.09L609.82 1461.08L611.81 1461.06L613.81 1461.04L615.81 1461.03L617.8 1461.01L619.8 1460.99L621.79 1460.97L623.79 1460.95L625.79 1460.93L627.78 1460.91L629.78 1460.89L631.77 1460.86L633.77 1460.84L635.77 1460.82L637.76 1460.8L639.76 1460.77L641.75 1460.75L643.75 1460.72L645.74 1460.7L647.74 1460.67L649.74 1460.65L651.73 1460.62L653.73 1460.6L655.72 1460.57L657.72 1460.54L659.72 1460.52L661.71 1460.49L663.71 1460.46L665.7 1460.44L667.7 1460.41L669.7 1460.38L671.69 1460.36L673.69 1460.33L675.68 1460.3L677.68 1460.27L679.68 1460.25L681.67 1460.22L683.67 1460.19L685.66 1460.17L687.66 1460.14L689.66 1460.11L691.65 1460.09L693.65 1460.06L695.64 1460.03L697.64 1460L699.64 1459.98L701.63 1459.95L703.63 1459.92L705.62 1459.89L707.62 1459.86L709.61 1459.83L711.61 1459.8L713.61 1459.77L715.6 1459.74L717.6 1459.71L719.59 1459.68L721.59 1459.65L723.59 1459.62L725.58 1459.58L727.58 1459.55L729.57 1459.52L731.57 1459.48L733.57 1459.45L735.56 1459.41L737.56 1459.38L739.55 1459.34L741.55 1459.3L743.55 1459.26L745.54 1459.22L747.54 1459.18L749.53 1459.14L751.53 1459.1L753.53 1459.06L755.52 1459.01L757.52 1458.97L759.51 1458.92L761.51 1458.87L763.51 1458.83L765.5 1458.78L767.5 1458.73L769.49 1458.68L771.49 1458.63L773.48 1458.57L775.48 1458.52L777.48 1458.46L779.47 1458.41L781.47 1458.35L783.46 1458.29L785.46 1458.22L787.46 1458.15L789.45 1458.08L791.45 1458.01L793.44 1457.93L795.44 1457.85L797.44 1457.76L799.43 1457.67L801.43 1457.58L803.42 1457.49L805.42 1457.39L807.42 1457.29L809.41 1457.18L811.41 1457.07L813.4 1456.96L815.4 1456.85L817.4 1456.73L819.39 1456.61L821.39 1456.49L823.38 1456.37L825.38 1456.24L827.38 1456.11L829.37 1455.97L831.37 1455.84L833.36 1455.7L835.36 1455.56L837.36 1455.41L839.35 1455.26L841.35 1455.11L843.34 1454.96L845.34 1454.8L847.33 1454.65L849.33 1454.49L851.33 1454.32L853.32 1454.14L855.32 1453.96L857.31 1453.76L859.31 1453.56L861.31 1453.34L863.3 1453.12L865.3 1452.89L867.29 1452.64L869.29 1452.39L871.29 1452.12L873.28 1451.85L875.28 1451.57L877.27 1451.27L879.27 1450.96L881.27 1450.65L883.26 1450.32L884.58 1450.09L885.26 1449.98L885.48 1449.94L886.39 1449.77L887.25 1449.61L887.29 1449.6L888.2 1449.43L889.1 1449.25L889.25 1449.22L890.01 1449.06L890.91 1448.87L891.25 1448.8L891.82 1448.67L892.72 1448.47L893.24 1448.35L893.63 1448.25L894.53 1448.03L895.24 1447.86L895.44 1447.81L896.34 1447.57L897.23 1447.34L897.25 1447.33L898.15 1447.08L899.05 1446.83L899.23 1446.78L899.96 1446.56L900.86 1446.29L901.23 1446.18L901.77 1446.01L902.67 1445.72L903.22 1445.54L903.58 1445.42L904.48 1445.11L905.22 1444.85L905.39 1444.79L906.29 1444.45L907.2 1444.09L907.21 1444.08L908.1 1443.71L909.01 1443.31L909.21 1443.22L909.91 1442.89L910.82 1442.45L911.2 1442.25L911.72 1441.99L912.63 1441.51L913.2 1441.2L913.53 1441.01L914.43 1440.5L915.2 1440.05L915.34 1439.96L916.24 1439.4L917.15 1438.83L917.19 1438.8L918.05 1438.23L918.96 1437.62L919.19 1437.46L919.86 1436.99L920.77 1436.34L921.18 1436.02L921.67 1435.63L922.58 1434.87L923.18 1434.33L923.48 1434.05L924.39 1433.18L925.18 1432.37L925.29 1432.25L926.2 1431.29L927.1 1430.27L927.17 1430.19L928.01 1429.22L928.91 1428.12L929.17 1427.8L929.81 1426.99L930.72 1425.76L931.16 1425.13L931.62 1424.45L932.53 1423.06L933.16 1422.05L933.43 1421.6L934.34 1420.08L935.16 1418.67" stroke="#ea1520" stroke-width="3.3" stroke-dasharray="5.2 11.34" stroke-dashoffset="0"/><path d="M935.16 1418.67L935.24 1418.51L936.15 1416.91L937.05 1415.27L937.15 1415.09L937.96 1413.61L938.86 1411.94L939.15 1411.41L939.77 1410.23L940.67 1408.45L941.14 1407.5L941.58 1406.61L942.48 1404.73L943.14 1403.33L943.39 1402.8L944.29 1400.83L945.14 1398.97L945.19 1398.84L946.1 1396.82L947 1394.76L947.13 1394.46L947.91 1392.64L948.81 1390.49L949.13 1389.73L949.72 1388.3L950.62 1386.07L951.12 1384.83L951.53 1383.82L952.43 1381.54L953.12 1379.77L953.34 1379.2L954.24 1376.79L955.12 1374.43L955.15 1374.35L956.05 1371.88L956.96 1369.43L957.11 1369.01L957.86 1367.01L958.77 1364.65L959.11 1363.77L959.67 1362.33L960.58 1360.04L961.1 1358.7L961.48 1357.75L962.38 1355.44L963.1 1353.59L963.29 1353.09L964.19 1350.69L965.1 1348.22L965.1 1348.22L966 1345.7L966.91 1343.15L967.09 1342.63L967.81 1340.6L968.72 1338.06L969.09 1337.04L969.62 1335.57L970.53 1333.1L971.08 1331.59L971.43 1330.64L972.34 1328.2L973.08 1326.21L973.24 1325.77L974.15 1323.38L975.05 1321.02L975.07 1320.96L975.96 1318.71L976.86 1316.46L977.07 1315.95L977.76 1314.26L978.67 1312.06L979.07 1311.1L979.57 1309.87L980.48 1307.64L981.06 1306.18L981.38 1305.37L982.29 1303.07L983.06 1301.09L983.19 1300.74L984.1 1298.4L985 1296.04L985.05 1295.91L985.91 1293.67L986.81 1291.28L987.05 1290.65L987.72 1288.88L988.62 1286.47L989.05 1285.33L989.53 1284.05L990.43 1281.62L991.04 1279.98L991.34 1279.19L992.24 1276.76L993.04 1274.61L995.03 1269.24L997.03 1263.88L999.03 1258.57L1001.02 1253.3L1003.02 1248.11L1005.01 1243.01L1007.01 1238.02L1009.01 1233.13L1011 1228.31L1013 1223.55L1014.99 1218.85L1016.99 1214.18L1018.99 1209.55L1020.98 1204.93L1022.98 1200.33L1024.97 1195.77L1026.97 1191.24L1028.97 1186.74L1030.96 1182.26L1032.96 1177.82L1034.95 1173.4L1036.95 1169L1038.94 1164.63L1040.94 1160.29L1042.94 1155.98L1044.93 1151.69L1046.93 1147.42L1048.92 1143.17L1050.92 1138.94L1052.92 1134.73L1054.91 1130.55L1056.91 1126.39L1058.9 1122.25L1060.9 1118.12L1062.9 1114.02L1064.89 1109.93L1066.89 1105.86L1068.88 1101.81L1070.88 1097.78L1072.88 1093.77L1074.87 1089.77L1076.87 1085.79L1078.86 1081.83L1080.86 1077.88L1082.86 1073.95L1084.85 1070.03L1086.85 1066.14L1088.84 1062.25L1090.84 1058.39L1092.84 1054.54L1094.83 1050.71L1096.83 1046.89L1098.82 1043.09L1100.82 1039.3L1102.82 1035.53L1104.81 1031.78L1106.81 1028.04L1108.8 1024.31L1110.8 1020.61L1112.79 1016.92L1114.79 1013.24L1116.79 1009.58L1118.78 1005.93L1120.78 1002.3L1122.77 998.69L1124.77 995.09L1126.77 991.51L1128.76 987.94L1130.76 984.39L1132.75 980.85L1134.75 977.33L1136.75 973.82L1138.74 970.33L1140.74 966.85L1142.73 963.39L1144.73 959.94L1146.73 956.51L1148.72 953.09L1150.72 949.69L1152.71 946.3L1154.71 942.93L1156.71 939.57L1158.7 936.22L1160.7 932.89L1162.69 929.58L1164.69 926.28L1166.69 922.99L1168.68 919.72L1170.68 916.46L1172.67 913.22L1174.67 909.99L1176.66 906.77L1178.66 903.57L1180.66 900.38L1182.65 897.21L1184.65 894.05L1186.64 890.9L1188.64 887.77L1190.64 884.65L1192.63 881.55L1194.63 878.46L1196.62 875.38L1198.62 872.32L1200.62 869.27L1202.61 866.23L1204.61 863.21L1206.6 860.2L1208.6 857.2L1210.6 854.22L1212.59 851.25L1214.59 848.29L1216.58 845.34L1218.58 842.41L1220.58 839.49L1222.57 836.59L1224.57 833.69L1226.56 830.81L1228.56 827.94L1230.56 825.09L1232.55 822.25L1234.55 819.41L1236.54 816.6L1238.54 813.79L1240.53 811L1242.53 808.22L1244.53 805.45L1246.52 802.69L1248.52 799.94L1250.51 797.21L1252.51 794.49L1254.51 791.78L1256.5 789.08L1258.5 786.39L1260.49 783.72L1262.49 781.06L1264.49 778.4L1266.48 775.76L1268.48 773.13L1270.47 770.52L1272.47 767.91L1274.47 765.31L1276.46 762.73L1278.46 760.15L1280.45 757.59L1282.45 755.04L1284.45 752.5L1286.44 749.97L1288.44 747.45L1290.43 744.94L1292.43 742.44L1294.43 739.95L1296.42 737.48L1298.42 735.01L1300.41 732.55L1302.41 730.1L1304.41 727.67L1306.4 725.24L1308.4 722.82L1310.39 720.42L1312.39 718.02L1314.38 715.63L1316.38 713.26L1318.38 710.89L1320.37 708.53L1322.37 706.18L1324.36 703.84L1326.36 701.52L1328.36 699.2L1330.35 696.89L1332.35 694.58L1334.34 692.29L1336.34 690.01L1338.34 687.74L1340.33 685.47L1342.33 683.22L1344.32 680.97L1346.32 678.74L1348.32 676.51L1350.31 674.29L1352.31 672.08L1354.3 669.87L1356.3 667.68L1358.3 665.5L1360.29 663.32L1362.29 661.15L1364.28 658.99L1366.28 656.84L1368.28 654.7L1370.27 652.57L1372.27 650.44L1374.26 648.32L1376.26 646.21L1378.25 644.11L1380.25 642.02L1382.25 639.94L1384.24 637.86L1386.24 635.79L1388.23 633.73L1390.23 631.67L1392.23 629.63L1394.22 627.59L1396.22 625.56L1398.21 623.54L1400.21 621.52L1402.21 619.51L1404.2 617.51L1406.2 615.52L1408.19 613.54L1410.19 611.56L1412.19 609.59L1414.18 607.62L1416.18 605.67L1418.17 603.72L1420.17 601.78L1422.17 599.84L1424.16 597.91L1426.16 595.99L1428.15 594.08L1430.15 592.17L1432.15 590.27L1434.14 588.38L1436.14 586.5L1438.13 584.62L1440.13 582.74L1442.12 580.88L1444.12 579.02L1446.12 577.17L1448.11 575.32L1450.11 573.48L1452.1 571.65L1454.1 569.82L1456.1 568L1458.09 566.19L1460.09 564.38L1462.08 562.58L1464.08 560.78L1466.08 559L1468.07 557.21L1470.07 555.44L1472.06 553.67L1474.06 551.9L1476.06 550.15L1478.05 548.4L1480.05 546.65L1482.04 544.91L1484.04 543.18L1486.04 541.45L1488.03 539.73L1490.03 538.01L1492.02 536.3L1494.02 534.6L1496.02 532.9L1498.01 531.21L1500.01 529.52L1502 527.84L1504 526.16L1505.99 524.49L1507.99 522.83L1509.99 521.17L1511.98 519.52L1513.98 517.87L1515.97 516.23L1517.97 514.59L1519.97 512.96L1521.96 511.33L1523.96 509.71L1525.95 508.1L1527.95 506.49L1529.95 504.88L1531.94 503.28L1533.94 501.69L1535.93 500.1L1537.93 498.52L1539.93 496.94L1541.92 495.37L1543.92 493.8L1545.91 492.24L1547.91 490.68L1549.91 489.13L1551.9 487.58L1553.9 486.04L1555.89 484.5L1557.89 482.97L1559.89 481.44L1561.88 479.92L1563.88 478.4L1565.87 476.88L1567.87 475.38L1569.87 473.87L1571.86 472.38L1573.86 470.88L1575.85 469.39L1577.85 467.91L1579.84 466.43L1581.84 464.96L1583.84 463.49L1585.83 462.03L1587.83 460.57L1589.82 459.11L1591.82 457.66L1593.82 456.21L1595.81 454.77L1597.81 453.34L1599.8 451.91L1601.8 450.48L1603.8 449.06L1605.79 447.64L1607.79 446.23L1609.78 444.82L1611.78 443.41L1613.78 442.01L1615.77 440.62L1617.77 439.23L1619.76 437.84L1621.76 436.46L1623.76 435.08L1625.75 433.71L1627.75 432.34L1629.74 430.97L1631.74 429.61L1633.74 428.26L1635.73 426.91L1637.73 425.56L1639.72 424.22L1641.72 422.88L1643.71 421.54L1645.71 420.21L1647.71 418.89L1649.7 417.57L1651.7 416.25L1653.69 414.94L1655.69 413.63L1657.69 412.32L1659.68 411.02L1661.68 409.72L1663.67 408.43L1665.67 407.14L1667.67 405.86L1669.66 404.58L1671.66 403.3L1673.65 402.03L1675.65 400.76L1677.65 399.49L1679.64 398.23L1681.64 396.98L1683.63 395.72L1685.63 394.47L1687.63 393.23L1689.62 391.99L1691.62 390.75L1693.61 389.52L1695.61 388.29L1697.61 387.06L1699.6 385.84L1701.6 384.62L1703.59 383.41L1705.59 382.2L1707.58 380.99L1709.58 379.78L1711.58 378.58L1713.57 377.39L1715.57 376.2L1717.56 375.01L1719.56 373.82L1721.56 372.64L1723.55 371.46L1725.55 370.29L1727.54 369.12L1729.54 367.95L1731.54 366.78L1733.53 365.62L1735.53 364.47L1737.52 363.31L1739.52 362.16L1741.52 361.02L1743.51 359.87L1745.51 358.74L1747.5 357.6L1749.5 356.47L1751.5 355.34L1753.49 354.21L1755.49 353.09L1757.48 351.97L1759.48 350.85L1761.48 349.74L1763.47 348.63L1765.47 347.52L1767.46 346.42L1769.46 345.32L1771.45 344.22L1773.45 343.13L1775.45 342.04L1777.44 340.95L1779.44 339.87L1781.43 338.79L1783.43 337.71L1785.43 336.64L1787.42 335.57L1789.42 334.5L1791.41 333.43L1793.41 332.37L1795.41 331.31L1797.4 330.25L1799.4 329.2L1801.39 328.15L1803.39 327.1L1805.39 326.06L1807.38 325.02L1809.38 323.98L1811.37 322.95L1813.37 321.91L1815.37 320.88L1817.36 319.86L1819.36 318.83L1821.35 317.81L1823.35 316.79L1825.35 315.78L1827.34 314.77L1829.34 313.76L1831.33 312.75L1833.33 311.75L1835.33 310.75L1837.32 309.75L1839.32 308.75L1841.31 307.76L1843.31 306.77L1845.3 305.78L1847.3 304.79L1849.3 303.81L1851.29 302.83L1853.29 301.85L1855.28 300.88L1857.28 299.91L1859.28 298.94L1861.27 297.97L1863.27 297.01L1865.26 296.05L1867.26 295.09L1869.26 294.13L1871.25 293.18L1873.25 292.22L1875.24 291.28L1877.24 290.33L1879.24 289.38L1881.23 288.44L1883.23 287.5L1885.22 286.57L1887.22 285.63L1889.22 284.7L1891.21 283.77L1893.21 282.84L1895.2 281.92L1897.2 280.99L1899.2 280.07L1901.19 279.16L1903.19 278.24L1905.18 277.33L1907.18 276.42L1909.17 275.51L1911.17 274.6L1913.17 273.7L1915.16 272.79L1917.16 271.89L1919.15 270.99L1921.15 270.1L1923.15 269.21L1925.14 268.31L1927.14 267.42L1929.13 266.54L1931.13 265.65L1933.13 264.77L1935.12 263.89L1937.12 263.01L1939.11 262.13L1941.11 261.26L1943.11 260.38L1945.1 259.51L1947.1 258.65L1949.09 257.78L1951.09 256.91L1953.09 256.05L1955.08 255.19L1957.08 254.33L1959.07 253.47L1961.07 252.62L1963.07 251.77L1965.06 250.92L1967.06 250.07L1969.05 249.22L1971.05 248.37L1973.04 247.53L1975.04 246.69L1977.04 245.85L1979.03 245.01L1981.03 244.17L1983.02 243.34L1985.02 242.51L1987.02 241.67L1989.01 240.85L1991.01 240.02L1993 239.19L1995 238.37L1997 237.55L1998.99 236.72L2000.99 235.91L2002.98 235.09L2004.98 234.27L2006.98 233.46L2008.97 232.65L2010.97 231.84L2012.96 231.03L2014.96 230.22L2016.96 229.41L2018.95 228.61L2020.95 227.81L2022.94 227L2024.94 226.2L2026.94 225.41L2028.93 224.61L2030.93 223.82L2032.92 223.02L2034.92 222.23L2036.91 221.44L2038.91 220.65L2040.91 219.86L2042.9 219.08L2044.9 218.29L2046.89 217.51L2048.89 216.73L2050.89 215.94L2052.88 215.17L2054.88 214.39L2056.87 213.61L2058.87 212.84L2060.87 212.06L2062.86 211.29L2064.86 210.52L2066.85 209.75L2068.85 208.98" stroke="#ea1520" stroke-width="3.6" stroke-dasharray="5.2 11.34" stroke-dashoffset="11.45"/>
</g>
<g font-family='"Liberation Sans", "DejaVu Sans", sans-serif' font-size="66.2" fill="#4d4e50">
<text transform="translate(274.2 1555.98) scale(1 1.021)" text-anchor="middle">0</text>
<text transform="translate(632.27 1555.98) scale(1 1.021)" text-anchor="middle">100</text>
<text transform="translate(991.04 1555.98) scale(1 1.021)" text-anchor="middle">200</text>
<text transform="translate(1349.91 1555.98) scale(1 1.021)" text-anchor="middle">300</text>
<text transform="translate(1709.28 1555.98) scale(1 1.021)" text-anchor="middle">400</text>
<text transform="translate(2068.55 1555.98) scale(1 1.021)" text-anchor="middle">500</text>
<text transform="translate(252.4 1492.88) scale(1 1.021)" text-anchor="end">0</text>
<text transform="translate(250.2 1290.85) scale(1 1.021)" text-anchor="end">0.1</text>
<text transform="translate(250.2 1088.83) scale(1 1.021)" text-anchor="end">0.2</text>
<text transform="translate(250.2 886.8) scale(1 1.021)" text-anchor="end">0.3</text>
<text transform="translate(250.2 684.78) scale(1 1.021)" text-anchor="end">0.4</text>
<text transform="translate(250.2 482.75) scale(1 1.021)" text-anchor="end">0.5</text>
<text transform="translate(250.2 280.73) scale(1 1.021)" text-anchor="end">0.6</text>
<text transform="translate(250.2 78.7) scale(1 1.021)" text-anchor="end">0.7</text>
</g>
<text font-family='"Liberation Sans", "DejaVu Sans", sans-serif' fill="#4d4e50"><tspan x="1023.58" y="1643.76" font-size="76.24" textLength="51.63" lengthAdjust="spacingAndGlyphs">U</tspan> <tspan x="1095.44" y="1642.52" font-size="72.2" textLength="17.76" lengthAdjust="spacingAndGlyphs">[</tspan><tspan x="1116.41" y="1643.4" font-size="72.66" textLength="58.85" lengthAdjust="spacingAndGlyphs">m</tspan><tspan x="1176.72" y="1643.4" font-size="72.66" textLength="58.73" lengthAdjust="spacingAndGlyphs">m</tspan><tspan x="1238.4" y="1642.71" font-size="70.94" textLength="22.2" lengthAdjust="spacingAndGlyphs">/</tspan><tspan x="1258.57" y="1644.17" font-size="74.31" textLength="34.63" lengthAdjust="spacingAndGlyphs">s</tspan><tspan x="1294.7" y="1642.52" font-size="72.2" textLength="17.62" lengthAdjust="spacingAndGlyphs">]</tspan></text>
<rect x="416.5" y="174.5" width="569" height="362" fill="#fff" stroke="#231f20" stroke-width="3" shape-rendering="crispEdges"/>
<g fill="none" stroke-width="3">
<path d="M433 239.5H558.2" stroke="#0a6cb5" stroke-dasharray="42.1 24.06" shape-rendering="crispEdges"/>
<path d="M433 355.5H558.2" stroke="#000" shape-rendering="crispEdges"/>
<path d="M433 471.5H558.2" stroke="#ea1520" stroke-dasharray="5.2 11.34" shape-rendering="crispEdges"/>
</g>
<g font-family='"Liberation Sans", "DejaVu Sans", sans-serif' font-size="59.4" fill="#231f20" stroke="#231f20" stroke-width="0.5">
<text transform="translate(572.6 255.1) scale(1 1.03)">v<tspan font-size="47.52" dx="2.7" dy="27.96">x</tspan><tspan dy="-27.96"> </tspan><tspan dy="4.85">=</tspan><tspan dy="-4.85"> </tspan><tspan dx="1.3">1 s</tspan><tspan font-size="47.52" dx="1.8" dy="-28.54">-1</tspan></text>
<text transform="translate(572.6 371.1) scale(1 1.03)">v<tspan font-size="47.52" dx="2.7" dy="27.96">x</tspan><tspan dy="-27.96"> </tspan><tspan dy="4.85">=</tspan><tspan dy="-4.85"> </tspan><tspan dx="1.3">0.01 s</tspan><tspan font-size="47.52" dx="1.8" dy="-28.54">-1</tspan></text>
<text transform="translate(572.6 487.1) scale(1 1.03)">v<tspan font-size="47.52" dx="2.7" dy="27.96">x</tspan><tspan dy="-27.96"> </tspan><tspan dy="4.85">=</tspan><tspan dy="-4.85"> </tspan><tspan dx="1.3">0.0001 s</tspan><tspan font-size="47.52" dx="1.8" dy="-28.54">-1</tspan></text>
</g>
<g transform="translate(0 900) rotate(-90)"><text font-family='"Liberation Sans", "DejaVu Sans", sans-serif' fill="#4d4e50"><tspan x="86.95" y="130.83" font-size="76.5" textLength="16.27" lengthAdjust="spacingAndGlyphs">I</tspan> <tspan x="123.73" y="129.74" font-size="72.58" textLength="17.62" lengthAdjust="spacingAndGlyphs">[</tspan><tspan x="143.05" y="133.39" font-size="85.89" textLength="23.97" lengthAdjust="spacingAndGlyphs">-</tspan><tspan x="168.65" y="129.74" font-size="72.58" textLength="17.69" lengthAdjust="spacingAndGlyphs">]</tspan></text></g>
<text font-family='"Liberation Sans", "DejaVu Sans", sans-serif' fill="#0a0a0a"><tspan x="2130.53" y="129.67" font-size="81.79" textLength="23.99" lengthAdjust="spacingAndGlyphs">(</tspan><tspan x="2158.14" y="129.7" font-size="86.19" textLength="54.92" lengthAdjust="spacingAndGlyphs">A</tspan><tspan x="2217.79" y="129.67" font-size="81.79" textLength="23.11" lengthAdjust="spacingAndGlyphs">)</tspan></text>
<!-- panel B -->
<path d="M341.5 1765.2V3178.7M413.5 1765.2V3178.7M485.5 1765.2V3178.7M557.5 1765.2V3178.7M629.5 1765.2V3178.7M701.5 1765.2V3178.7M773.5 1765.2V3178.7M845.5 1765.2V3178.7M917.5 1765.2V3178.7M989.5 1765.2V3178.7M1061.5 1765.2V3178.7M1133.5 1765.2V3178.7M1205.5 1765.2V3178.7M1277.5 1765.2V3178.7M1420.5 1765.2V3178.7M1492.5 1765.2V3178.7M1564.5 1765.2V3178.7M1636.5 1765.2V3178.7M1708.5 1765.2V3178.7M1780.5 1765.2V3178.7M1852.5 1765.2V3178.7M1924.5 1765.2V3178.7M1996.5 1765.2V3178.7" fill="none" stroke="#1a1c22" stroke-opacity="0.235" stroke-width="3" stroke-dasharray="5.2 11.39" shape-rendering="crispEdges"/>
<path d="M1349 1765.2V3178.7" fill="none" stroke="#1a1c22" stroke-opacity="0.235" stroke-width="4" stroke-dasharray="5.2 11.39" shape-rendering="crispEdges"/>
<path d="M274 3119.5H2068.3M274 3060.5H2068.3M274 3001.5H2068.3M274 2942.5H2068.3M274 2883.5H2068.3M274 2824.5H2068.3M274 2765.5H2068.3M274 2706.5H2068.3M274 2647.5H2068.3M274 2588.5H2068.3M274 2529.5H2068.3M274 2470.5H2068.3M274 2411.5H2068.3M274 2352.5H2068.3M274 2293.5H2068.3M274 2234.5H2068.3M274 2174.5H2068.3M274 2115.5H2068.3M274 2056.5H2068.3M274 1997.5H2068.3M274 1938.5H2068.3M274 1879.5H2068.3M274 1820.5H2068.3" fill="none" stroke="#1a1c22" stroke-opacity="0.235" stroke-width="3" stroke-dasharray="5.2 11.371" shape-rendering="crispEdges"/>
<path d="M1349 3178.7V3159M1349 1761.7V1781" fill="none" stroke="#4d4e50" stroke-width="4" shape-rendering="crispEdges"/>
<path d="M629.5 3178.7V3159M629.5 1761.7V1781M989.5 3178.7V3159M989.5 1761.7V1781M1708.5 3178.7V3159M1708.5 1761.7V1781M270 2942.5H290M2068.3 2942.5H2049M270 2706.5H290M2068.3 2706.5H2049M270 2470.5H290M2068.3 2470.5H2049M270 2234.5H290M2068.3 2234.5H2049M270 1997.5H290M2068.3 1997.5H2049" fill="none" stroke="#4d4e50" stroke-width="3" shape-rendering="crispEdges"/>
<g fill="#4d4e50" shape-rendering="crispEdges"><rect x="268" y="1760" width="4" height="1420"/><rect x="2067" y="1760" width="3" height="1420"/><rect x="268" y="1760" width="1802" height="3"/><rect x="268" y="3177" width="1802" height="3"/></g>
<clipPath id="bclip"><rect x="269" y="1761.7" width="1800.3" height="1417"/></clipPath>
<g clip-path="url(#bclip)" fill="none" stroke-linejoin="round" shape-rendering="crispEdges">
<path d="M270 3173.74L272 3173.74L274 3173.74L276 3173.74L278 3173.74L280 3173.74L282 3173.74L284 3173.74L286 3173.74L288 3173.74L290 3173.74L292 3173.74L294 3173.74L296 3173.74L298 3173.73L300.01 3173.73L302.01 3173.73L304.01 3173.73L306.01 3173.73L308.01 3173.73L310.01 3173.73L312.01 3173.73L314.01 3173.72L316.01 3173.72L318.01 3173.72L320.01 3173.72L322.01 3173.72L324.01 3173.72L326.01 3173.72L328.01 3173.71L330.01 3173.71L332.01 3173.71L334.01 3173.71L336.01 3173.71L338.01 3173.7L340.01 3173.7L342.01 3173.7L344.01 3173.7L346.01 3173.69L348.01 3173.69L350.01 3173.69L352.01 3173.69L354.01 3173.68L356.01 3173.68L358.01 3173.68L360.02 3173.68L362.02 3173.67L364.02 3173.67L366.02 3173.67L368.02 3173.66L370.02 3173.66L372.02 3173.66L374.02 3173.65L376.02 3173.65L378.02 3173.65L380.02 3173.64L382.02 3173.64L384.02 3173.64L386.02 3173.63L388.02 3173.63L390.02 3173.63L392.02 3173.62L394.02 3173.62L396.02 3173.62L398.02 3173.61L400.02 3173.61L402.02 3173.6L404.02 3173.6L406.02 3173.6L408.02 3173.59L410.02 3173.59L412.02 3173.58L414.02 3173.58L416.02 3173.57L418.02 3173.57L420.03 3173.56L422.03 3173.56L424.03 3173.56L426.03 3173.55L428.03 3173.55L430.03 3173.54L432.03 3173.54L434.03 3173.53L436.03 3173.53L438.03 3173.52L440.03 3173.52L442.03 3173.51L444.03 3173.51L446.03 3173.5L448.03 3173.5L450.03 3173.49L452.03 3173.48L454.03 3173.48L456.03 3173.47L458.03 3173.47L460.03 3173.46L462.03 3173.46L464.03 3173.45L466.03 3173.44L468.03 3173.44L470.03 3173.43L472.03 3173.43L474.03 3173.42L476.03 3173.41L478.03 3173.41L480.04 3173.4L482.04 3173.4L484.04 3173.39L486.04 3173.38L488.04 3173.38L490.04 3173.37L492.04 3173.36L494.04 3173.36L496.04 3173.35L498.04 3173.34L500.04 3173.34L502.04 3173.33L504.04 3173.32L506.04 3173.32L508.04 3173.31L510.04 3173.3L512.04 3173.3L514.04 3173.29L516.04 3173.28L518.04 3173.27L520.04 3173.27L522.04 3173.26L524.04 3173.25L526.04 3173.25L528.04 3173.24L530.04 3173.23L532.04 3173.22L534.04 3173.22L536.04 3173.21L538.04 3173.2L540.05 3173.19L542.05 3173.18L544.05 3173.18L546.05 3173.17L548.05 3173.16L550.05 3173.15L552.05 3173.14L554.05 3173.14L556.05 3173.13L558.05 3173.12L560.05 3173.11L562.05 3173.1L564.05 3173.1L566.05 3173.09L568.05 3173.08L570.05 3173.07L572.05 3173.06L574.05 3173.05L576.05 3173.04L578.05 3173.04L580.05 3173.03L582.05 3173.02L584.05 3173.01L586.05 3173L588.05 3172.99L590.05 3172.98L592.05 3172.97L594.05 3172.96L596.05 3172.96L598.05 3172.95L600.06 3172.94L602.06 3172.93L604.06 3172.92L606.06 3172.91L608.06 3172.9L610.06 3172.89L612.06 3172.88L614.06 3172.87L616.06 3172.86L618.06 3172.85L620.06 3172.84L622.06 3172.83L624.06 3172.82L626.06 3172.81L628.06 3172.8L630.06 3172.79L632.06 3172.78L634.06 3172.77L636.06 3172.76L638.06 3172.75L640.06 3172.74L642.06 3172.72L644.06 3172.71L646.06 3172.7L648.06 3172.68L650.06 3172.67L652.06 3172.65L654.06 3172.63L656.06 3172.62L658.06 3172.6L660.07 3172.58L662.07 3172.56L664.07 3172.54L666.07 3172.52L668.07 3172.5L670.07 3172.48L672.07 3172.46L674.07 3172.44L676.07 3172.42L678.07 3172.39L680.07 3172.37L682.07 3172.34L684.07 3172.32L686.07 3172.3L688.07 3172.27L690.07 3172.24L692.07 3172.22L694.07 3172.19L696.07 3172.16L698.07 3172.13L700.07 3172.1L702.07 3172.08L704.07 3172.05L706.07 3172.01L708.07 3171.98L710.07 3171.95L712.07 3171.92L714.07 3171.89L716.07 3171.86L718.07 3171.82L720.08 3171.79L722.08 3171.75L724.08 3171.72L726.08 3171.68L728.08 3171.65L730.08 3171.61L732.08 3171.57L734.08 3171.54L736.08 3171.5L738.08 3171.46L740.08 3171.42L742.08 3171.38L744.08 3171.34L746.08 3171.3L748.08 3171.26L750.08 3171.22L752.08 3171.18L754.08 3171.13L756.08 3171.09L758.08 3171.05L760.08 3171L762.08 3170.96L764.08 3170.92L766.08 3170.87L768.08 3170.83L770.08 3170.78L772.08 3170.73L774.08 3170.69L776.08 3170.64L778.08 3170.59L780.09 3170.54L782.09 3170.49L784.09 3170.44L786.09 3170.38L788.09 3170.32L790.09 3170.25L792.09 3170.19L794.09 3170.12L796.09 3170.04L798.09 3169.97L800.09 3169.89L802.09 3169.81L804.09 3169.72L806.09 3169.64L808.09 3169.55L810.09 3169.46L812.09 3169.36L814.09 3169.27L816.09 3169.17L818.09 3169.07L820.09 3168.96L822.09 3168.86L824.09 3168.75L826.09 3168.64L828.09 3168.53L830.09 3168.41L832.09 3168.3L834.09 3168.18L836.09 3168.06L838.09 3167.94L840.1 3167.82L842.1 3167.69L844.1 3167.57L846.1 3167.44L848.1 3167.31L850.1 3167.17L852.1 3167.03L854.1 3166.89L856.1 3166.74L858.1 3166.58L860.1 3166.41L862.1 3166.24L864.1 3166.07L866.1 3165.88L868.1 3165.69L870.1 3165.5L872.1 3165.29L874.1 3165.08L876.1 3164.85L878.1 3164.62L880.1 3164.38L881.42 3164.22L882.1 3164.14L882.33 3164.11L883.24 3163.99L884.1 3163.87L884.14 3163.87L885.05 3163.74L885.96 3163.61L886.1 3163.59L886.86 3163.47L887.77 3163.34L888.1 3163.28L888.68 3163.19L889.58 3163.04L890.1 3162.96L890.49 3162.89L891.4 3162.73L892.1 3162.6L892.3 3162.57L893.21 3162.4L894.1 3162.23L894.12 3162.23L895.02 3162.05L895.93 3161.86L896.1 3161.83L896.84 3161.67L897.74 3161.47L898.1 3161.39L898.65 3161.27L899.56 3161.06L900.11 3160.93L900.46 3160.85L901.37 3160.63L902.11 3160.44L902.28 3160.4L903.18 3160.16L904.09 3159.91L904.11 3159.91L905 3159.65L905.9 3159.38L906.11 3159.31L906.81 3159.09L907.72 3158.79L908.11 3158.65L908.62 3158.47L909.53 3158.14L910.11 3157.92L910.44 3157.79L911.34 3157.42L912.11 3157.1L912.25 3157.04L913.16 3156.63L914.06 3156.21L914.11 3156.19L914.97 3155.77L915.88 3155.31L916.11 3155.19L916.78 3154.83L917.69 3154.32L918.11 3154.07L918.6 3153.75L919.5 3153.11L920.11 3152.64L920.41 3152.4L921.32 3151.64L922.11 3150.93L922.22 3150.82L923.13 3149.96L924.04 3149.07L924.11 3148.99L924.94 3148.14L925.85 3147.18L926.11 3146.9L926.76 3146.2L927.66 3145.22L928.11 3144.72L928.57 3144.2L929.48 3143.12L930.11 3142.33L930.38 3141.98L931.29 3140.79L932.11 3139.67" stroke="#0a6cb5" stroke-width="3.3" stroke-dasharray="42.22 24.13" stroke-dashoffset="0"/><path d="M932.11 3139.67L932.2 3139.55L933.1 3138.27L934.01 3136.96L934.11 3136.81L934.92 3135.62L935.82 3134.26L936.11 3133.82L936.73 3132.88L937.64 3131.5L938.11 3130.77L938.54 3130.1L939.45 3128.66L940.11 3127.59L940.36 3127.19L941.26 3125.68L942.11 3124.24L942.17 3124.14L943.08 3122.57L943.98 3120.98L944.11 3120.76L944.89 3119.37L945.8 3117.73L946.11 3117.16L946.7 3116.08L947.61 3114.41L948.11 3113.47L948.52 3112.7L949.42 3110.95L950.11 3109.6L950.33 3109.17L951.24 3107.37L952.11 3105.62L952.15 3105.55L953.05 3103.72L953.96 3101.87L954.11 3101.55L954.87 3100.02L955.77 3098.17L956.11 3097.47L956.68 3096.32L957.59 3094.48L958.11 3093.41L958.49 3092.65L959.4 3090.82L960.12 3089.37L960.31 3088.98L961.21 3087.13L962.12 3085.29L962.12 3085.28L963.03 3083.43L963.93 3081.58L964.12 3081.21L964.84 3079.73L965.75 3077.89L966.12 3077.14L966.65 3076.05L967.56 3074.23L968.12 3073.11L968.47 3072.41L969.37 3070.61L970.12 3069.14L970.28 3068.82L971.19 3067.03L972.09 3065.25L972.12 3065.2L973 3063.47L973.91 3061.7L974.12 3061.28L974.81 3059.92L975.72 3058.14L976.12 3057.35L976.63 3056.35L977.53 3054.57L978.12 3053.41L978.44 3052.77L979.35 3050.97L980.12 3049.44L980.25 3049.17L981.16 3047.36L982.07 3045.54L982.12 3045.44L982.97 3043.72L983.88 3041.9L984.12 3041.41L984.79 3040.07L985.69 3038.24L986.12 3037.37L986.6 3036.4L987.51 3034.56L988.12 3033.32L988.41 3032.72L989.32 3030.88L990.12 3029.26L992.12 3025.19L994.12 3021.13L996.12 3017.07L998.12 3013.03L1000.12 3009L1002.12 3004.98L1004.12 3001L1006.12 2997.03L1008.12 2993.09L1010.12 2989.17L1012.12 2985.27L1014.12 2981.38L1016.12 2977.51L1018.12 2973.65L1020.13 2969.8L1022.13 2965.97L1024.13 2962.16L1026.13 2958.36L1028.13 2954.58L1030.13 2950.82L1032.13 2947.07L1034.13 2943.34L1036.13 2939.63L1038.13 2935.94L1040.13 2932.26L1042.13 2928.61L1044.13 2924.98L1046.13 2921.36L1048.13 2917.76L1050.13 2914.19L1052.13 2910.63L1054.13 2907.1L1056.13 2903.59L1058.13 2900.11L1060.13 2896.64L1062.13 2893.2L1064.13 2889.77L1066.13 2886.35L1068.13 2882.95L1070.13 2879.55L1072.13 2876.17L1074.13 2872.8L1076.13 2869.44L1078.13 2866.09L1080.14 2862.75L1082.14 2859.43L1084.14 2856.11L1086.14 2852.8L1088.14 2849.5L1090.14 2846.21L1092.14 2842.93L1094.14 2839.66L1096.14 2836.4L1098.14 2833.14L1100.14 2829.9L1102.14 2826.66L1104.14 2823.43L1106.14 2820.21L1108.14 2816.99L1110.14 2813.79L1112.14 2810.59L1114.14 2807.4L1116.14 2804.21L1118.14 2801.03L1120.14 2797.86L1122.14 2794.7L1124.14 2791.54L1126.14 2788.39L1128.14 2785.24L1130.14 2782.1L1132.14 2778.97L1134.14 2775.84L1136.14 2772.72L1138.14 2769.61L1140.15 2766.51L1142.15 2763.41L1144.15 2760.32L1146.15 2757.24L1148.15 2754.16L1150.15 2751.1L1152.15 2748.04L1154.15 2744.99L1156.15 2741.94L1158.15 2738.9L1160.15 2735.88L1162.15 2732.85L1164.15 2729.84L1166.15 2726.83L1168.15 2723.83L1170.15 2720.84L1172.15 2717.85L1174.15 2714.88L1176.15 2711.91L1178.15 2708.95L1180.15 2705.99L1182.15 2703.04L1184.15 2700.1L1186.15 2697.17L1188.15 2694.25L1190.15 2691.33L1192.15 2688.43L1194.15 2685.53L1196.15 2682.64L1198.15 2679.75L1200.16 2676.88L1202.16 2674.01L1204.16 2671.15L1206.16 2668.3L1208.16 2665.46L1210.16 2662.63L1212.16 2659.8L1214.16 2656.99L1216.16 2654.18L1218.16 2651.38L1220.16 2648.6L1222.16 2645.82L1224.16 2643.05L1226.16 2640.28L1228.16 2637.53L1230.16 2634.79L1232.16 2632.05L1234.16 2629.33L1236.16 2626.61L1238.16 2623.9L1240.16 2621.2L1242.16 2618.51L1244.16 2615.83L1246.16 2613.15L1248.16 2610.49L1250.16 2607.83L1252.16 2605.18L1254.16 2602.53L1256.16 2599.9L1258.16 2597.27L1260.17 2594.65L1262.17 2592.04L1264.17 2589.43L1266.17 2586.83L1268.17 2584.24L1270.17 2581.66L1272.17 2579.08L1274.17 2576.5L1276.17 2573.94L1278.17 2571.37L1280.17 2568.81L1282.17 2566.26L1284.17 2563.71L1286.17 2561.16L1288.17 2558.62L1290.17 2556.07L1292.17 2553.54L1294.17 2551L1296.17 2548.47L1298.17 2545.94L1300.17 2543.41L1302.17 2540.89L1304.17 2538.37L1306.17 2535.85L1308.17 2533.34L1310.17 2530.82L1312.17 2528.31L1314.17 2525.81L1316.17 2523.3L1318.17 2520.8L1320.18 2518.3L1322.18 2515.81L1324.18 2513.31L1326.18 2510.82L1328.18 2508.33L1330.18 2505.85L1332.18 2503.37L1334.18 2500.89L1336.18 2498.41L1338.18 2495.94L1340.18 2493.47L1342.18 2491.01L1344.18 2488.54L1346.18 2486.09L1348.18 2483.63L1350.18 2481.18L1352.18 2478.73L1354.18 2476.29L1356.18 2473.84L1358.18 2471.4L1360.18 2468.96L1362.18 2466.53L1364.18 2464.09L1366.18 2461.66L1368.18 2459.24L1370.18 2456.81L1372.18 2454.39L1374.18 2451.97L1376.18 2449.55L1378.18 2447.14L1380.19 2444.73L1382.19 2442.32L1384.19 2439.91L1386.19 2437.51L1388.19 2435.11L1390.19 2432.72L1392.19 2430.32L1394.19 2427.93L1396.19 2425.54L1398.19 2423.16L1400.19 2420.78L1402.19 2418.4L1404.19 2416.02L1406.19 2413.65L1408.19 2411.28L1410.19 2408.92L1412.19 2406.55L1414.19 2404.19L1416.19 2401.84L1418.19 2399.48L1420.19 2397.13L1422.19 2394.79L1424.19 2392.44L1426.19 2390.1L1428.19 2387.76L1430.19 2385.43L1432.19 2383.1L1434.19 2380.77L1436.19 2378.44L1438.19 2376.12L1440.2 2373.8L1442.2 2371.48L1444.2 2369.17L1446.2 2366.85L1448.2 2364.54L1450.2 2362.24L1452.2 2359.94L1454.2 2357.64L1456.2 2355.34L1458.2 2353.04L1460.2 2350.75L1462.2 2348.46L1464.2 2346.18L1466.2 2343.89L1468.2 2341.61L1470.2 2339.34L1472.2 2337.06L1474.2 2334.79L1476.2 2332.52L1478.2 2330.25L1480.2 2327.99L1482.2 2325.72L1484.2 2323.47L1486.2 2321.21L1488.2 2318.96L1490.2 2316.7L1492.2 2314.46L1494.2 2312.21L1496.2 2309.96L1498.2 2307.71L1500.21 2305.45L1502.21 2303.2L1504.21 2300.94L1506.21 2298.69L1508.21 2296.43L1510.21 2294.18L1512.21 2291.93L1514.21 2289.68L1516.21 2287.43L1518.21 2285.18L1520.21 2282.93L1522.21 2280.69L1524.21 2278.46L1526.21 2276.22L1528.21 2273.99L1530.21 2271.77L1532.21 2269.55L1534.21 2267.34L1536.21 2265.14L1538.21 2262.94L1540.21 2260.75L1542.21 2258.57L1544.21 2256.39L1546.21 2254.22L1548.21 2252.07L1550.21 2249.92L1552.21 2247.78L1554.21 2245.66L1556.21 2243.54L1558.21 2241.43L1560.22 2239.34L1562.22 2237.26L1564.22 2235.19L1566.22 2233.14L1568.22 2231.08L1570.22 2229.04L1572.22 2226.99L1574.22 2224.95L1576.22 2222.92L1578.22 2220.88L1580.22 2218.86L1582.22 2216.83L1584.22 2214.81L1586.22 2212.79L1588.22 2210.78L1590.22 2208.77L1592.22 2206.76L1594.22 2204.75L1596.22 2202.75L1598.22 2200.75L1600.22 2198.75L1602.22 2196.76L1604.22 2194.77L1606.22 2192.77L1608.22 2190.79L1610.22 2188.8L1612.22 2186.82L1614.22 2184.83L1616.22 2182.85L1618.22 2180.87L1620.23 2178.9L1622.23 2176.92L1624.23 2174.94L1626.23 2172.97L1628.23 2171L1630.23 2169.02L1632.23 2167.05L1634.23 2165.08L1636.23 2163.11L1638.23 2161.14L1640.23 2159.17L1642.23 2157.19L1644.23 2155.21L1646.23 2153.23L1648.23 2151.25L1650.23 2149.26L1652.23 2147.28L1654.23 2145.29L1656.23 2143.3L1658.23 2141.31L1660.23 2139.32L1662.23 2137.33L1664.23 2135.34L1666.23 2133.34L1668.23 2131.35L1670.23 2129.36L1672.23 2127.37L1674.23 2125.38L1676.23 2123.39L1678.23 2121.4L1680.24 2119.41L1682.24 2117.42L1684.24 2115.44L1686.24 2113.46L1688.24 2111.48L1690.24 2109.5L1692.24 2107.52L1694.24 2105.55L1696.24 2103.58L1698.24 2101.61L1700.24 2099.65L1702.24 2097.68L1704.24 2095.73L1706.24 2093.77L1708.24 2091.82L1710.24 2089.88L1712.24 2087.93L1714.24 2085.98L1716.24 2084.04L1718.24 2082.09L1720.24 2080.14L1722.24 2078.2L1724.24 2076.25L1726.24 2074.31L1728.24 2072.37L1730.24 2070.43L1732.24 2068.49L1734.24 2066.55L1736.24 2064.61L1738.24 2062.68L1740.25 2060.74L1742.25 2058.81L1744.25 2056.88L1746.25 2054.96L1748.25 2053.04L1750.25 2051.12L1752.25 2049.2L1754.25 2047.29L1756.25 2045.38L1758.25 2043.47L1760.25 2041.57L1762.25 2039.67L1764.25 2037.78L1766.25 2035.89L1768.25 2034L1770.25 2032.12L1772.25 2030.25L1774.25 2028.38L1776.25 2026.51L1778.25 2024.65L1780.25 2022.8L1782.25 2020.95L1784.25 2019.1L1786.25 2017.26L1788.25 2015.42L1790.25 2013.59L1792.25 2011.75L1794.25 2009.92L1796.25 2008.1L1798.25 2006.27L1800.26 2004.45L1802.26 2002.63L1804.26 2000.81L1806.26 1999L1808.26 1997.19L1810.26 1995.38L1812.26 1993.57L1814.26 1991.76L1816.26 1989.96L1818.26 1988.16L1820.26 1986.36L1822.26 1984.55L1824.26 1982.76L1826.26 1980.96L1828.26 1979.16L1830.26 1977.36L1832.26 1975.57L1834.26 1973.77L1836.26 1971.98L1838.26 1970.19L1840.26 1968.39L1842.26 1966.6L1844.26 1964.81L1846.26 1963.01L1848.26 1961.22L1850.26 1959.43L1852.26 1957.63L1854.26 1955.84L1856.26 1954.04L1858.26 1952.24L1860.27 1950.44L1862.27 1948.64L1864.27 1946.84L1866.27 1945.04L1868.27 1943.24L1870.27 1941.43L1872.27 1939.63L1874.27 1937.83L1876.27 1936.02L1878.27 1934.22L1880.27 1932.42L1882.27 1930.61L1884.27 1928.81L1886.27 1927.01L1888.27 1925.21L1890.27 1923.41L1892.27 1921.61L1894.27 1919.82L1896.27 1918.02L1898.27 1916.23L1900.27 1914.44L1902.27 1912.65L1904.27 1910.86L1906.27 1909.07L1908.27 1907.29L1910.27 1905.51L1912.27 1903.73L1914.27 1901.95L1916.27 1900.18L1918.27 1898.41L1920.28 1896.65L1922.28 1894.88L1924.28 1893.12L1926.28 1891.37L1928.28 1889.61L1930.28 1887.86L1932.28 1886.11L1934.28 1884.37L1936.28 1882.62L1938.28 1880.88L1940.28 1879.14L1942.28 1877.4L1944.28 1875.66L1946.28 1873.92L1948.28 1872.19L1950.28 1870.45L1952.28 1868.72L1954.28 1866.99L1956.28 1865.25L1958.28 1863.52L1960.28 1861.79L1962.28 1860.07L1964.28 1858.34L1966.28 1856.61L1968.28 1854.88L1970.28 1853.15L1972.28 1851.42L1974.28 1849.7L1976.28 1847.97L1978.28 1846.24L1980.29 1844.51L1982.29 1842.78L1984.29 1841.05L1986.29 1839.32L1988.29 1837.58L1990.29 1835.85L1992.29 1834.12L1994.29 1832.38L1996.29 1830.64L1998.29 1828.9L2000.29 1827.16L2002.29 1825.42L2004.29 1823.68L2006.29 1821.94L2008.29 1820.19L2010.29 1818.44L2012.29 1816.69L2014.29 1814.94L2016.29 1813.19L2018.29 1811.44L2020.29 1809.69L2022.29 1807.93L2024.29 1806.17L2026.29 1804.42L2028.29 1802.66L2030.29 1800.9L2032.29 1799.14L2034.29 1797.38L2036.29 1795.61L2038.29 1793.85L2040.3 1792.08L2042.3 1790.32L2044.3 1788.55L2046.3 1786.78L2048.3 1785.01L2050.3 1783.24L2052.3 1781.47L2054.3 1779.7L2056.3 1777.92L2058.3 1776.15L2060.3 1774.37L2062.3 1772.6L2064.3 1770.82L2066.3 1769.04L2068.3 1767.27" stroke="#0a6cb5" stroke-width="3.3" stroke-dasharray="42.22 24.13" stroke-dashoffset="6.65"/>
<path d="M270 3173.74L272 3173.74L274 3173.74L276 3173.74L278 3173.74L280 3173.74L282 3173.74L284 3173.74L286 3173.74L288 3173.74L290 3173.74L292 3173.74L294 3173.74L296 3173.74L298 3173.73L300.01 3173.73L302.01 3173.73L304.01 3173.73L306.01 3173.73L308.01 3173.73L310.01 3173.73L312.01 3173.73L314.01 3173.72L316.01 3173.72L318.01 3173.72L320.01 3173.72L322.01 3173.72L324.01 3173.72L326.01 3173.72L328.01 3173.71L330.01 3173.71L332.01 3173.71L334.01 3173.71L336.01 3173.71L338.01 3173.7L340.01 3173.7L342.01 3173.7L344.01 3173.7L346.01 3173.69L348.01 3173.69L350.01 3173.69L352.01 3173.69L354.01 3173.68L356.01 3173.68L358.01 3173.68L360.02 3173.68L362.02 3173.67L364.02 3173.67L366.02 3173.67L368.02 3173.66L370.02 3173.66L372.02 3173.66L374.02 3173.65L376.02 3173.65L378.02 3173.65L380.02 3173.64L382.02 3173.64L384.02 3173.64L386.02 3173.63L388.02 3173.63L390.02 3173.63L392.02 3173.62L394.02 3173.62L396.02 3173.62L398.02 3173.61L400.02 3173.61L402.02 3173.6L404.02 3173.6L406.02 3173.6L408.02 3173.59L410.02 3173.59L412.02 3173.58L414.02 3173.58L416.02 3173.57L418.02 3173.57L420.03 3173.56L422.03 3173.56L424.03 3173.56L426.03 3173.55L428.03 3173.55L430.03 3173.54L432.03 3173.54L434.03 3173.53L436.03 3173.53L438.03 3173.52L440.03 3173.52L442.03 3173.51L444.03 3173.51L446.03 3173.5L448.03 3173.5L450.03 3173.49L452.03 3173.48L454.03 3173.48L456.03 3173.47L458.03 3173.47L460.03 3173.46L462.03 3173.46L464.03 3173.45L466.03 3173.44L468.03 3173.44L470.03 3173.43L472.03 3173.43L474.03 3173.42L476.03 3173.41L478.03 3173.41L480.04 3173.4L482.04 3173.4L484.04 3173.39L486.04 3173.38L488.04 3173.38L490.04 3173.37L492.04 3173.36L494.04 3173.36L496.04 3173.35L498.04 3173.34L500.04 3173.34L502.04 3173.33L504.04 3173.32L506.04 3173.32L508.04 3173.31L510.04 3173.3L512.04 3173.3L514.04 3173.29L516.04 3173.28L518.04 3173.27L520.04 3173.27L522.04 3173.26L524.04 3173.25L526.04 3173.25L528.04 3173.24L530.04 3173.23L532.04 3173.22L534.04 3173.22L536.04 3173.21L538.04 3173.2L540.05 3173.19L542.05 3173.18L544.05 3173.18L546.05 3173.17L548.05 3173.16L550.05 3173.15L552.05 3173.14L554.05 3173.14L556.05 3173.13L558.05 3173.12L560.05 3173.11L562.05 3173.1L564.05 3173.1L566.05 3173.09L568.05 3173.08L570.05 3173.07L572.05 3173.06L574.05 3173.05L576.05 3173.04L578.05 3173.04L580.05 3173.03L582.05 3173.02L584.05 3173.01L586.05 3173L588.05 3172.99L590.05 3172.98L592.05 3172.97L594.05 3172.96L596.05 3172.96L598.05 3172.95L600.06 3172.94L602.06 3172.93L604.06 3172.92L606.06 3172.91L608.06 3172.9L610.06 3172.89L612.06 3172.88L614.06 3172.87L616.06 3172.86L618.06 3172.85L620.06 3172.84L622.06 3172.83L624.06 3172.82L626.06 3172.81L628.06 3172.8L630.06 3172.79L632.06 3172.78L634.06 3172.77L636.06 3172.76L638.06 3172.75L640.06 3172.74L642.06 3172.72L644.06 3172.71L646.06 3172.7L648.06 3172.68L650.06 3172.67L652.06 3172.65L654.06 3172.63L656.06 3172.62L658.06 3172.6L660.07 3172.58L662.07 3172.56L664.07 3172.54L666.07 3172.52L668.07 3172.5L670.07 3172.48L672.07 3172.46L674.07 3172.44L676.07 3172.42L678.07 3172.39L680.07 3172.37L682.07 3172.34L684.07 3172.32L686.07 3172.3L688.07 3172.27L690.07 3172.24L692.07 3172.22L694.07 3172.19L696.07 3172.16L698.07 3172.13L700.07 3172.1L702.07 3172.08L704.07 3172.05L706.07 3172.01L708.07 3171.98L710.07 3171.95L712.07 3171.92L714.07 3171.89L716.07 3171.86L718.07 3171.82L720.08 3171.79L722.08 3171.75L724.08 3171.72L726.08 3171.68L728.08 3171.65L730.08 3171.61L732.08 3171.57L734.08 3171.54L736.08 3171.5L738.08 3171.46L740.08 3171.42L742.08 3171.38L744.08 3171.34L746.08 3171.3L748.08 3171.26L750.08 3171.22L752.08 3171.18L754.08 3171.13L756.08 3171.09L758.08 3171.05L760.08 3171L762.08 3170.96L764.08 3170.92L766.08 3170.87L768.08 3170.83L770.08 3170.78L772.08 3170.73L774.08 3170.69L776.08 3170.64L778.08 3170.59L780.09 3170.54L782.09 3170.49L784.09 3170.44L786.09 3170.38L788.09 3170.32L790.09 3170.25L792.09 3170.19L794.09 3170.12L796.09 3170.04L798.09 3169.97L800.09 3169.89L802.09 3169.81L804.09 3169.72L806.09 3169.64L808.09 3169.55L810.09 3169.46L812.09 3169.36L814.09 3169.27L816.09 3169.17L818.09 3169.07L820.09 3168.96L822.09 3168.86L824.09 3168.75L826.09 3168.64L828.09 3168.53L830.09 3168.41L832.09 3168.3L834.09 3168.18L836.09 3168.06L838.09 3167.94L840.1 3167.82L842.1 3167.69L844.1 3167.57L846.1 3167.44L848.1 3167.31L850.1 3167.17L852.1 3167.03L854.1 3166.89L856.1 3166.74L858.1 3166.58L860.1 3166.41L862.1 3166.24L864.1 3166.07L866.1 3165.88L868.1 3165.69L870.1 3165.5L872.1 3165.29L874.1 3165.08L876.1 3164.85L878.1 3164.62L880.1 3164.38L881.42 3164.22L882.1 3164.14L882.33 3164.11L883.24 3163.99L884.1 3163.87L884.14 3163.87L885.05 3163.74L885.96 3163.61L886.1 3163.59L886.86 3163.47L887.77 3163.34L888.1 3163.28L888.68 3163.19L889.58 3163.04L890.1 3162.96L890.49 3162.89L891.4 3162.73L892.1 3162.6L892.3 3162.57L893.21 3162.4L894.1 3162.23L894.12 3162.23L895.02 3162.05L895.93 3161.86L896.1 3161.83L896.84 3161.67L897.74 3161.47L898.1 3161.39L898.65 3161.27L899.56 3161.06L900.11 3160.93L900.46 3160.85L901.37 3160.63L902.11 3160.44L902.28 3160.4L903.18 3160.16L904.09 3159.91L904.11 3159.91L905 3159.65L905.9 3159.38L906.11 3159.31L906.81 3159.09L907.72 3158.79L908.11 3158.65L908.62 3158.47L909.53 3158.14L910.11 3157.92L910.44 3157.79L911.34 3157.42L912.11 3157.1L912.25 3157.04L913.16 3156.63L914.06 3156.21L914.11 3156.19L914.97 3155.77L915.88 3155.31L916.11 3155.19L916.78 3154.83L917.69 3154.32L918.11 3154.07L918.6 3153.75L919.5 3153.11L920.11 3152.64L920.41 3152.4L921.32 3151.64L922.11 3150.93L922.22 3150.82L923.13 3149.96L924.04 3149.07L924.11 3148.99L924.94 3148.14L925.85 3147.18L926.11 3146.9L926.76 3146.2L927.66 3145.22L928.11 3144.72L928.57 3144.2L929.48 3143.12L930.11 3142.33L930.38 3141.98L931.29 3140.79L932.11 3139.67" stroke="#000" stroke-width="3.3"/><path d="M932.11 3139.67L932.2 3139.55L933.1 3138.27L934.01 3136.96L934.11 3136.81L934.92 3135.62L935.82 3134.26L936.11 3133.82L936.73 3132.88L937.64 3131.5L938.11 3130.77L938.54 3130.1L939.45 3128.66L940.11 3127.59L940.36 3127.19L941.26 3125.68L942.11 3124.24L942.17 3124.14L943.08 3122.57L943.98 3120.98L944.11 3120.76L944.89 3119.37L945.8 3117.73L946.11 3117.16L946.7 3116.08L947.61 3114.41L948.11 3113.47L948.52 3112.7L949.42 3110.95L950.11 3109.6L950.33 3109.17L951.24 3107.37L952.11 3105.62L952.15 3105.55L953.05 3103.72L953.96 3101.87L954.11 3101.55L954.87 3100.02L955.77 3098.17L956.11 3097.47L956.68 3096.32L957.59 3094.48L958.11 3093.41L958.49 3092.65L959.4 3090.82L960.12 3089.37L960.31 3088.98L961.21 3087.13L962.12 3085.29L962.12 3085.28L963.03 3083.43L963.93 3081.58L964.12 3081.21L964.84 3079.73L965.75 3077.89L966.12 3077.14L966.65 3076.05L967.56 3074.23L968.12 3073.11L968.47 3072.41L969.37 3070.61L970.12 3069.14L970.28 3068.82L971.19 3067.03L972.09 3065.25L972.12 3065.21L973 3063.48L973.91 3061.71L974.12 3061.3L974.81 3059.94L975.72 3058.18L976.12 3057.4L976.63 3056.41L977.53 3054.65L978.12 3053.5L978.44 3052.88L979.35 3051.1L980.12 3049.59L980.25 3049.33L981.16 3047.55L982.07 3045.77L982.12 3045.67L982.97 3043.99L983.88 3042.2L984.12 3041.73L984.79 3040.42L985.69 3038.63L986.12 3037.8L986.6 3036.85L987.51 3035.06L988.12 3033.86L988.41 3033.28L989.32 3031.49L990.12 3029.92L992.12 3025.99L994.12 3022.08L996.12 3018.17L998.12 3014.29L1000.12 3010.43L1002.12 3006.6L1004.12 3002.8L1006.12 2999.03L1008.12 2995.29L1010.12 2991.57L1012.12 2987.88L1014.12 2984.2L1016.12 2980.54L1018.12 2976.89L1020.13 2973.26L1022.13 2969.65L1024.13 2966.05L1026.13 2962.47L1028.13 2958.91L1030.13 2955.36L1032.13 2951.82L1034.13 2948.3L1036.13 2944.79L1038.13 2941.3L1040.13 2937.82L1042.13 2934.35L1044.13 2930.89L1046.13 2927.45L1048.13 2924.02L1050.13 2920.6L1052.13 2917.19L1054.13 2913.8L1056.13 2910.41L1058.13 2907.04L1060.13 2903.67L1062.13 2900.32L1064.13 2896.98L1066.13 2893.64L1068.13 2890.32L1070.13 2887L1072.13 2883.7L1074.13 2880.4L1076.13 2877.12L1078.13 2873.84L1080.14 2870.57L1082.14 2867.31L1084.14 2864.06L1086.14 2860.81L1088.14 2857.58L1090.14 2854.35L1092.14 2851.13L1094.14 2847.92L1096.14 2844.71L1098.14 2841.52L1100.14 2838.33L1102.14 2835.15L1104.14 2831.97L1106.14 2828.8L1108.14 2825.64L1110.14 2822.49L1112.14 2819.35L1114.14 2816.21L1116.14 2813.08L1118.14 2809.95L1120.14 2806.83L1122.14 2803.72L1124.14 2800.62L1126.14 2797.52L1128.14 2794.43L1130.14 2791.34L1132.14 2788.27L1134.14 2785.2L1136.14 2782.13L1138.14 2779.08L1140.15 2776.03L1142.15 2772.98L1144.15 2769.95L1146.15 2766.92L1148.15 2763.89L1150.15 2760.88L1152.15 2757.87L1154.15 2754.87L1156.15 2751.87L1158.15 2748.88L1160.15 2745.9L1162.15 2742.93L1164.15 2739.96L1166.15 2737.01L1168.15 2734.05L1170.15 2731.11L1172.15 2728.17L1174.15 2725.24L1176.15 2722.33L1178.15 2719.41L1180.15 2716.51L1182.15 2713.61L1184.15 2710.72L1186.15 2707.85L1188.15 2704.97L1190.15 2702.11L1192.15 2699.26L1194.15 2696.42L1196.15 2693.58L1198.15 2690.76L1200.16 2687.94L1202.16 2685.13L1204.16 2682.34L1206.16 2679.55L1208.16 2676.77L1210.16 2674.01L1212.16 2671.25L1214.16 2668.5L1216.16 2665.76L1218.16 2663.03L1220.16 2660.31L1222.16 2657.61L1224.16 2654.91L1226.16 2652.22L1228.16 2649.54L1230.16 2646.87L1232.16 2644.21L1234.16 2641.56L1236.16 2638.92L1238.16 2636.29L1240.16 2633.67L1242.16 2631.06L1244.16 2628.45L1246.16 2625.86L1248.16 2623.27L1250.16 2620.7L1252.16 2618.13L1254.16 2615.57L1256.16 2613.02L1258.16 2610.48L1260.17 2607.95L1262.17 2605.42L1264.17 2602.9L1266.17 2600.39L1268.17 2597.89L1270.17 2595.4L1272.17 2592.91L1274.17 2590.42L1276.17 2587.95L1278.17 2585.48L1280.17 2583.01L1282.17 2580.55L1284.17 2578.1L1286.17 2575.65L1288.17 2573.21L1290.17 2570.77L1292.17 2568.33L1294.17 2565.9L1296.17 2563.48L1298.17 2561.06L1300.17 2558.64L1302.17 2556.23L1304.17 2553.82L1306.17 2551.41L1308.17 2549.01L1310.17 2546.61L1312.17 2544.22L1314.17 2541.83L1316.17 2539.44L1318.17 2537.05L1320.18 2534.67L1322.18 2532.29L1324.18 2529.92L1326.18 2527.54L1328.18 2525.17L1330.18 2522.81L1332.18 2520.44L1334.18 2518.08L1336.18 2515.73L1338.18 2513.37L1340.18 2511.02L1342.18 2508.68L1344.18 2506.33L1346.18 2503.99L1348.18 2501.65L1350.18 2499.32L1352.18 2496.98L1354.18 2494.66L1356.18 2492.33L1358.18 2490.01L1360.18 2487.69L1362.18 2485.37L1364.18 2483.06L1366.18 2480.75L1368.18 2478.44L1370.18 2476.14L1372.18 2473.84L1374.18 2471.54L1376.18 2469.24L1378.18 2466.95L1380.19 2464.66L1382.19 2462.38L1384.19 2460.1L1386.19 2457.82L1388.19 2455.54L1390.19 2453.27L1392.19 2451L1394.19 2448.73L1396.19 2446.46L1398.19 2444.2L1400.19 2441.94L1402.19 2439.69L1404.19 2437.44L1406.19 2435.19L1408.19 2432.94L1410.19 2430.7L1412.19 2428.46L1414.19 2426.22L1416.19 2423.99L1418.19 2421.75L1420.19 2419.53L1422.19 2417.3L1424.19 2415.08L1426.19 2412.86L1428.19 2410.64L1430.19 2408.43L1432.19 2406.22L1434.19 2404.01L1436.19 2401.8L1438.19 2399.6L1440.2 2397.4L1442.2 2395.2L1444.2 2393.01L1446.2 2390.82L1448.2 2388.63L1450.2 2386.45L1452.2 2384.27L1454.2 2382.09L1456.2 2379.91L1458.2 2377.74L1460.2 2375.57L1462.2 2373.4L1464.2 2371.23L1466.2 2369.07L1468.2 2366.91L1470.2 2364.76L1472.2 2362.6L1474.2 2360.45L1476.2 2358.3L1478.2 2356.16L1480.2 2354.02L1482.2 2351.88L1484.2 2349.74L1486.2 2347.61L1488.2 2345.47L1490.2 2343.35L1492.2 2341.22L1494.2 2339.1L1496.2 2336.98L1498.2 2334.86L1500.21 2332.75L1502.21 2330.63L1504.21 2328.52L1506.21 2326.42L1508.21 2324.31L1510.21 2322.21L1512.21 2320.11L1514.21 2318.02L1516.21 2315.92L1518.21 2313.83L1520.21 2311.75L1522.21 2309.66L1524.21 2307.58L1526.21 2305.5L1528.21 2303.42L1530.21 2301.35L1532.21 2299.28L1534.21 2297.21L1536.21 2295.14L1538.21 2293.08L1540.21 2291.01L1542.21 2288.95L1544.21 2286.9L1546.21 2284.84L1548.21 2282.79L1550.21 2280.75L1552.21 2278.7L1554.21 2276.66L1556.21 2274.61L1558.21 2272.58L1560.22 2270.54L1562.22 2268.51L1564.22 2266.48L1566.22 2264.45L1568.22 2262.42L1570.22 2260.4L1572.22 2258.38L1574.22 2256.36L1576.22 2254.34L1578.22 2252.33L1580.22 2250.32L1582.22 2248.31L1584.22 2246.31L1586.22 2244.3L1588.22 2242.3L1590.22 2240.3L1592.22 2238.31L1594.22 2236.31L1596.22 2234.32L1598.22 2232.33L1600.22 2230.35L1602.22 2228.36L1604.22 2226.38L1606.22 2224.4L1608.22 2222.42L1610.22 2220.45L1612.22 2218.48L1614.22 2216.51L1616.22 2214.54L1618.22 2212.57L1620.23 2210.61L1622.23 2208.65L1624.23 2206.69L1626.23 2204.73L1628.23 2202.78L1630.23 2200.83L1632.23 2198.88L1634.23 2196.93L1636.23 2194.99L1638.23 2193.05L1640.23 2191.1L1642.23 2189.17L1644.23 2187.23L1646.23 2185.3L1648.23 2183.37L1650.23 2181.44L1652.23 2179.51L1654.23 2177.58L1656.23 2175.66L1658.23 2173.74L1660.23 2171.82L1662.23 2169.91L1664.23 2167.99L1666.23 2166.08L1668.23 2164.17L1670.23 2162.26L1672.23 2160.36L1674.23 2158.45L1676.23 2156.55L1678.23 2154.65L1680.24 2152.76L1682.24 2150.86L1684.24 2148.97L1686.24 2147.08L1688.24 2145.19L1690.24 2143.3L1692.24 2141.41L1694.24 2139.53L1696.24 2137.65L1698.24 2135.77L1700.24 2133.89L1702.24 2132.02L1704.24 2130.15L1706.24 2128.28L1708.24 2126.41L1710.24 2124.54L1712.24 2122.67L1714.24 2120.81L1716.24 2118.95L1718.24 2117.09L1720.24 2115.23L1722.24 2113.38L1724.24 2111.52L1726.24 2109.67L1728.24 2107.82L1730.24 2105.97L1732.24 2104.13L1734.24 2102.28L1736.24 2100.44L1738.24 2098.6L1740.25 2096.76L1742.25 2094.92L1744.25 2093.09L1746.25 2091.25L1748.25 2089.42L1750.25 2087.59L1752.25 2085.76L1754.25 2083.93L1756.25 2082.11L1758.25 2080.29L1760.25 2078.46L1762.25 2076.64L1764.25 2074.83L1766.25 2073.01L1768.25 2071.2L1770.25 2069.38L1772.25 2067.57L1774.25 2065.76L1776.25 2063.95L1778.25 2062.15L1780.25 2060.34L1782.25 2058.54L1784.25 2056.74L1786.25 2054.94L1788.25 2053.14L1790.25 2051.34L1792.25 2049.55L1794.25 2047.75L1796.25 2045.96L1798.25 2044.17L1800.26 2042.38L1802.26 2040.59L1804.26 2038.8L1806.26 2037.02L1808.26 2035.24L1810.26 2033.45L1812.26 2031.67L1814.26 2029.9L1816.26 2028.12L1818.26 2026.34L1820.26 2024.57L1822.26 2022.79L1824.26 2021.02L1826.26 2019.25L1828.26 2017.48L1830.26 2015.71L1832.26 2013.95L1834.26 2012.18L1836.26 2010.42L1838.26 2008.66L1840.26 2006.9L1842.26 2005.14L1844.26 2003.38L1846.26 2001.62L1848.26 1999.87L1850.26 1998.11L1852.26 1996.36L1854.26 1994.6L1856.26 1992.85L1858.26 1991.1L1860.27 1989.36L1862.27 1987.61L1864.27 1985.86L1866.27 1984.12L1868.27 1982.37L1870.27 1980.63L1872.27 1978.89L1874.27 1977.15L1876.27 1975.41L1878.27 1973.67L1880.27 1971.94L1882.27 1970.2L1884.27 1968.46L1886.27 1966.73L1888.27 1965L1890.27 1963.27L1892.27 1961.54L1894.27 1959.81L1896.27 1958.08L1898.27 1956.35L1900.27 1954.62L1902.27 1952.9L1904.27 1951.17L1906.27 1949.45L1908.27 1947.73L1910.27 1946L1912.27 1944.28L1914.27 1942.56L1916.27 1940.84L1918.27 1939.13L1920.28 1937.41L1922.28 1935.69L1924.28 1933.98L1926.28 1932.26L1928.28 1930.55L1930.28 1928.83L1932.28 1927.12L1934.28 1925.41L1936.28 1923.7L1938.28 1921.99L1940.28 1920.28L1942.28 1918.57L1944.28 1916.86L1946.28 1915.16L1948.28 1913.45L1950.28 1911.75L1952.28 1910.04L1954.28 1908.34L1956.28 1906.63L1958.28 1904.93L1960.28 1903.23L1962.28 1901.53L1964.28 1899.82L1966.28 1898.12L1968.28 1896.42L1970.28 1894.72L1972.28 1893.03L1974.28 1891.33L1976.28 1889.63L1978.28 1887.93L1980.29 1886.24L1982.29 1884.54L1984.29 1882.84L1986.29 1881.15L1988.29 1879.45L1990.29 1877.76L1992.29 1876.07L1994.29 1874.37L1996.29 1872.68L1998.29 1870.99L2000.29 1869.29L2002.29 1867.6L2004.29 1865.91L2006.29 1864.22L2008.29 1862.53L2010.29 1860.84L2012.29 1859.15L2014.29 1857.46L2016.29 1855.77L2018.29 1854.08L2020.29 1852.39L2022.29 1850.7L2024.29 1849.01L2026.29 1847.33L2028.29 1845.64L2030.29 1843.95L2032.29 1842.26L2034.29 1840.57L2036.29 1838.89L2038.29 1837.2L2040.3 1835.51L2042.3 1833.83L2044.3 1832.14L2046.3 1830.45L2048.3 1828.77L2050.3 1827.08L2052.3 1825.39L2054.3 1823.71L2056.3 1822.02L2058.3 1820.33L2060.3 1818.65L2062.3 1816.96L2064.3 1815.27L2066.3 1813.59L2068.3 1811.9" stroke="#000" stroke-width="3.6"/>
<path d="M270 3173.74L272 3173.74L274 3173.74L276 3173.74L278 3173.74L280 3173.74L282 3173.74L284 3173.74L286 3173.74L288 3173.74L290 3173.74L292 3173.74L294 3173.74L296 3173.74L298 3173.73L300.01 3173.73L302.01 3173.73L304.01 3173.73L306.01 3173.73L308.01 3173.73L310.01 3173.73L312.01 3173.73L314.01 3173.72L316.01 3173.72L318.01 3173.72L320.01 3173.72L322.01 3173.72L324.01 3173.72L326.01 3173.72L328.01 3173.71L330.01 3173.71L332.01 3173.71L334.01 3173.71L336.01 3173.71L338.01 3173.7L340.01 3173.7L342.01 3173.7L344.01 3173.7L346.01 3173.69L348.01 3173.69L350.01 3173.69L352.01 3173.69L354.01 3173.68L356.01 3173.68L358.01 3173.68L360.02 3173.68L362.02 3173.67L364.02 3173.67L366.02 3173.67L368.02 3173.66L370.02 3173.66L372.02 3173.66L374.02 3173.65L376.02 3173.65L378.02 3173.65L380.02 3173.64L382.02 3173.64L384.02 3173.64L386.02 3173.63L388.02 3173.63L390.02 3173.63L392.02 3173.62L394.02 3173.62L396.02 3173.62L398.02 3173.61L400.02 3173.61L402.02 3173.6L404.02 3173.6L406.02 3173.6L408.02 3173.59L410.02 3173.59L412.02 3173.58L414.02 3173.58L416.02 3173.57L418.02 3173.57L420.03 3173.56L422.03 3173.56L424.03 3173.56L426.03 3173.55L428.03 3173.55L430.03 3173.54L432.03 3173.54L434.03 3173.53L436.03 3173.53L438.03 3173.52L440.03 3173.52L442.03 3173.51L444.03 3173.51L446.03 3173.5L448.03 3173.5L450.03 3173.49L452.03 3173.48L454.03 3173.48L456.03 3173.47L458.03 3173.47L460.03 3173.46L462.03 3173.46L464.03 3173.45L466.03 3173.44L468.03 3173.44L470.03 3173.43L472.03 3173.43L474.03 3173.42L476.03 3173.41L478.03 3173.41L480.04 3173.4L482.04 3173.4L484.04 3173.39L486.04 3173.38L488.04 3173.38L490.04 3173.37L492.04 3173.36L494.04 3173.36L496.04 3173.35L498.04 3173.34L500.04 3173.34L502.04 3173.33L504.04 3173.32L506.04 3173.32L508.04 3173.31L510.04 3173.3L512.04 3173.3L514.04 3173.29L516.04 3173.28L518.04 3173.27L520.04 3173.27L522.04 3173.26L524.04 3173.25L526.04 3173.25L528.04 3173.24L530.04 3173.23L532.04 3173.22L534.04 3173.22L536.04 3173.21L538.04 3173.2L540.05 3173.19L542.05 3173.18L544.05 3173.18L546.05 3173.17L548.05 3173.16L550.05 3173.15L552.05 3173.14L554.05 3173.14L556.05 3173.13L558.05 3173.12L560.05 3173.11L562.05 3173.1L564.05 3173.1L566.05 3173.09L568.05 3173.08L570.05 3173.07L572.05 3173.06L574.05 3173.05L576.05 3173.04L578.05 3173.04L580.05 3173.03L582.05 3173.02L584.05 3173.01L586.05 3173L588.05 3172.99L590.05 3172.98L592.05 3172.97L594.05 3172.96L596.05 3172.96L598.05 3172.95L600.06 3172.94L602.06 3172.93L604.06 3172.92L606.06 3172.91L608.06 3172.9L610.06 3172.89L612.06 3172.88L614.06 3172.87L616.06 3172.86L618.06 3172.85L620.06 3172.84L622.06 3172.83L624.06 3172.82L626.06 3172.81L628.06 3172.8L630.06 3172.79L632.06 3172.78L634.06 3172.77L636.06 3172.76L638.06 3172.75L640.06 3172.74L642.06 3172.72L644.06 3172.71L646.06 3172.7L648.06 3172.68L650.06 3172.67L652.06 3172.65L654.06 3172.63L656.06 3172.62L658.06 3172.6L660.07 3172.58L662.07 3172.56L664.07 3172.54L666.07 3172.52L668.07 3172.5L670.07 3172.48L672.07 3172.46L674.07 3172.44L676.07 3172.42L678.07 3172.39L680.07 3172.37L682.07 3172.34L684.07 3172.32L686.07 3172.3L688.07 3172.27L690.07 3172.24L692.07 3172.22L694.07 3172.19L696.07 3172.16L698.07 3172.13L700.07 3172.1L702.07 3172.08L704.07 3172.05L706.07 3172.01L708.07 3171.98L710.07 3171.95L712.07 3171.92L714.07 3171.89L716.07 3171.86L718.07 3171.82L720.08 3171.79L722.08 3171.75L724.08 3171.72L726.08 3171.68L728.08 3171.65L730.08 3171.61L732.08 3171.57L734.08 3171.54L736.08 3171.5L738.08 3171.46L740.08 3171.42L742.08 3171.38L744.08 3171.34L746.08 3171.3L748.08 3171.26L750.08 3171.22L752.08 3171.18L754.08 3171.13L756.08 3171.09L758.08 3171.05L760.08 3171L762.08 3170.96L764.08 3170.92L766.08 3170.87L768.08 3170.83L770.08 3170.78L772.08 3170.73L774.08 3170.69L776.08 3170.64L778.08 3170.59L780.09 3170.54L782.09 3170.49L784.09 3170.44L786.09 3170.38L788.09 3170.32L790.09 3170.25L792.09 3170.19L794.09 3170.12L796.09 3170.04L798.09 3169.97L800.09 3169.89L802.09 3169.81L804.09 3169.72L806.09 3169.64L808.09 3169.55L810.09 3169.46L812.09 3169.36L814.09 3169.27L816.09 3169.17L818.09 3169.07L820.09 3168.96L822.09 3168.86L824.09 3168.75L826.09 3168.64L828.09 3168.53L830.09 3168.41L832.09 3168.3L834.09 3168.18L836.09 3168.06L838.09 3167.94L840.1 3167.82L842.1 3167.69L844.1 3167.57L846.1 3167.44L848.1 3167.31L850.1 3167.17L852.1 3167.03L854.1 3166.89L856.1 3166.74L858.1 3166.58L860.1 3166.41L862.1 3166.24L864.1 3166.07L866.1 3165.88L868.1 3165.69L870.1 3165.5L872.1 3165.29L874.1 3165.08L876.1 3164.85L878.1 3164.62L880.1 3164.38L881.42 3164.22L882.1 3164.14L882.33 3164.11L883.24 3163.99L884.1 3163.87L884.14 3163.87L885.05 3163.74L885.96 3163.61L886.1 3163.59L886.86 3163.47L887.77 3163.34L888.1 3163.28L888.68 3163.19L889.58 3163.04L890.1 3162.96L890.49 3162.89L891.4 3162.73L892.1 3162.6L892.3 3162.57L893.21 3162.4L894.1 3162.23L894.12 3162.23L895.02 3162.05L895.93 3161.86L896.1 3161.83L896.84 3161.67L897.74 3161.47L898.1 3161.39L898.65 3161.27L899.56 3161.06L900.11 3160.93L900.46 3160.85L901.37 3160.63L902.11 3160.44L902.28 3160.4L903.18 3160.16L904.09 3159.91L904.11 3159.91L905 3159.65L905.9 3159.38L906.11 3159.31L906.81 3159.09L907.72 3158.79L908.11 3158.65L908.62 3158.47L909.53 3158.14L910.11 3157.92L910.44 3157.79L911.34 3157.42L912.11 3157.1L912.25 3157.04L913.16 3156.63L914.06 3156.21L914.11 3156.19L914.97 3155.77L915.88 3155.31L916.11 3155.19L916.78 3154.83L917.69 3154.32L918.11 3154.07L918.6 3153.75L919.5 3153.11L920.11 3152.64L920.41 3152.4L921.32 3151.64L922.11 3150.93L922.22 3150.82L923.13 3149.96L924.04 3149.07L924.11 3148.99L924.94 3148.14L925.85 3147.18L926.11 3146.9L926.76 3146.2L927.66 3145.22L928.11 3144.72L928.57 3144.2L929.48 3143.12L930.11 3142.33L930.38 3141.98L931.29 3140.79L932.11 3139.67" stroke="#ea1520" stroke-width="3.3" stroke-dasharray="5.2 11.39" stroke-dashoffset="0"/><path d="M932.11 3139.67L932.2 3139.55L933.1 3138.27L934.01 3136.96L934.11 3136.81L934.92 3135.62L935.82 3134.26L936.11 3133.82L936.73 3132.88L937.64 3131.5L938.11 3130.77L938.54 3130.1L939.45 3128.66L940.11 3127.59L940.36 3127.19L941.26 3125.68L942.11 3124.24L942.17 3124.14L943.08 3122.57L943.98 3120.98L944.11 3120.76L944.89 3119.37L945.8 3117.73L946.11 3117.16L946.7 3116.08L947.61 3114.41L948.11 3113.47L948.52 3112.7L949.42 3110.95L950.11 3109.6L950.33 3109.17L951.24 3107.37L952.11 3105.62L952.15 3105.55L953.05 3103.72L953.96 3101.87L954.11 3101.55L954.87 3100.02L955.77 3098.17L956.11 3097.47L956.68 3096.32L957.59 3094.48L958.11 3093.41L958.49 3092.65L959.4 3090.82L960.12 3089.37L960.31 3088.98L961.21 3087.13L962.12 3085.29L962.12 3085.28L963.03 3083.43L963.93 3081.58L964.12 3081.21L964.84 3079.73L965.75 3077.89L966.12 3077.14L966.65 3076.05L967.56 3074.23L968.12 3073.11L968.47 3072.41L969.37 3070.61L970.12 3069.14L970.28 3068.82L971.19 3067.03L972.09 3065.25L972.12 3065.21L973 3063.48L973.91 3061.71L974.12 3061.3L974.81 3059.94L975.72 3058.18L976.12 3057.4L976.63 3056.41L977.53 3054.65L978.12 3053.5L978.44 3052.88L979.35 3051.1L980.12 3049.59L980.25 3049.33L981.16 3047.55L982.07 3045.77L982.12 3045.67L982.97 3043.99L983.88 3042.2L984.12 3041.73L984.79 3040.42L985.69 3038.63L986.12 3037.8L986.6 3036.85L987.51 3035.06L988.12 3033.86L988.41 3033.28L989.32 3031.49L990.12 3029.92L992.12 3025.99L994.12 3022.08L996.12 3018.17L998.12 3014.29L1000.12 3010.43L1002.12 3006.6L1004.12 3002.8L1006.12 2999.03L1008.12 2995.29L1010.12 2991.57L1012.12 2987.88L1014.12 2984.2L1016.12 2980.54L1018.12 2976.89L1020.13 2973.26L1022.13 2969.65L1024.13 2966.05L1026.13 2962.47L1028.13 2958.91L1030.13 2955.36L1032.13 2951.82L1034.13 2948.3L1036.13 2944.79L1038.13 2941.3L1040.13 2937.82L1042.13 2934.35L1044.13 2930.89L1046.13 2927.45L1048.13 2924.02L1050.13 2920.6L1052.13 2917.19L1054.13 2913.8L1056.13 2910.41L1058.13 2907.04L1060.13 2903.67L1062.13 2900.32L1064.13 2896.98L1066.13 2893.64L1068.13 2890.32L1070.13 2887L1072.13 2883.7L1074.13 2880.4L1076.13 2877.12L1078.13 2873.84L1080.14 2870.57L1082.14 2867.31L1084.14 2864.06L1086.14 2860.81L1088.14 2857.58L1090.14 2854.35L1092.14 2851.13L1094.14 2847.92L1096.14 2844.71L1098.14 2841.52L1100.14 2838.33L1102.14 2835.15L1104.14 2831.97L1106.14 2828.8L1108.14 2825.64L1110.14 2822.49L1112.14 2819.35L1114.14 2816.21L1116.14 2813.08L1118.14 2809.95L1120.14 2806.83L1122.14 2803.72L1124.14 2800.62L1126.14 2797.52L1128.14 2794.43L1130.14 2791.34L1132.14 2788.27L1134.14 2785.2L1136.14 2782.13L1138.14 2779.08L1140.15 2776.03L1142.15 2772.98L1144.15 2769.95L1146.15 2766.92L1148.15 2763.89L1150.15 2760.88L1152.15 2757.87L1154.15 2754.87L1156.15 2751.87L1158.15 2748.88L1160.15 2745.9L1162.15 2742.93L1164.15 2739.96L1166.15 2737.01L1168.15 2734.05L1170.15 2731.11L1172.15 2728.17L1174.15 2725.24L1176.15 2722.33L1178.15 2719.41L1180.15 2716.51L1182.15 2713.61L1184.15 2710.72L1186.15 2707.85L1188.15 2704.97L1190.15 2702.11L1192.15 2699.26L1194.15 2696.42L1196.15 2693.58L1198.15 2690.76L1200.16 2687.94L1202.16 2685.13L1204.16 2682.34L1206.16 2679.55L1208.16 2676.77L1210.16 2674.01L1212.16 2671.25L1214.16 2668.5L1216.16 2665.76L1218.16 2663.03L1220.16 2660.31L1222.16 2657.61L1224.16 2654.91L1226.16 2652.22L1228.16 2649.54L1230.16 2646.87L1232.16 2644.21L1234.16 2641.56L1236.16 2638.92L1238.16 2636.29L1240.16 2633.67L1242.16 2631.06L1244.16 2628.45L1246.16 2625.86L1248.16 2623.27L1250.16 2620.7L1252.16 2618.13L1254.16 2615.57L1256.16 2613.02L1258.16 2610.48L1260.17 2607.95L1262.17 2605.42L1264.17 2602.9L1266.17 2600.39L1268.17 2597.89L1270.17 2595.4L1272.17 2592.91L1274.17 2590.42L1276.17 2587.95L1278.17 2585.48L1280.17 2583.01L1282.17 2580.55L1284.17 2578.1L1286.17 2575.65L1288.17 2573.21L1290.17 2570.77L1292.17 2568.33L1294.17 2565.9L1296.17 2563.48L1298.17 2561.06L1300.17 2558.64L1302.17 2556.23L1304.17 2553.82L1306.17 2551.41L1308.17 2549.01L1310.17 2546.61L1312.17 2544.22L1314.17 2541.83L1316.17 2539.44L1318.17 2537.05L1320.18 2534.67L1322.18 2532.29L1324.18 2529.92L1326.18 2527.54L1328.18 2525.17L1330.18 2522.81L1332.18 2520.44L1334.18 2518.08L1336.18 2515.73L1338.18 2513.37L1340.18 2511.02L1342.18 2508.68L1344.18 2506.33L1346.18 2503.99L1348.18 2501.65L1350.18 2499.32L1352.18 2496.98L1354.18 2494.66L1356.18 2492.33L1358.18 2490.01L1360.18 2487.69L1362.18 2485.37L1364.18 2483.06L1366.18 2480.75L1368.18 2478.44L1370.18 2476.14L1372.18 2473.84L1374.18 2471.54L1376.18 2469.24L1378.18 2466.95L1380.19 2464.66L1382.19 2462.38L1384.19 2460.1L1386.19 2457.82L1388.19 2455.54L1390.19 2453.27L1392.19 2451L1394.19 2448.73L1396.19 2446.46L1398.19 2444.2L1400.19 2441.94L1402.19 2439.69L1404.19 2437.44L1406.19 2435.19L1408.19 2432.94L1410.19 2430.7L1412.19 2428.46L1414.19 2426.22L1416.19 2423.99L1418.19 2421.75L1420.19 2419.53L1422.19 2417.3L1424.19 2415.08L1426.19 2412.86L1428.19 2410.64L1430.19 2408.43L1432.19 2406.22L1434.19 2404.01L1436.19 2401.8L1438.19 2399.6L1440.2 2397.4L1442.2 2395.2L1444.2 2393.01L1446.2 2390.82L1448.2 2388.63L1450.2 2386.45L1452.2 2384.27L1454.2 2382.09L1456.2 2379.91L1458.2 2377.74L1460.2 2375.57L1462.2 2373.4L1464.2 2371.23L1466.2 2369.07L1468.2 2366.91L1470.2 2364.76L1472.2 2362.6L1474.2 2360.45L1476.2 2358.3L1478.2 2356.16L1480.2 2354.02L1482.2 2351.88L1484.2 2349.74L1486.2 2347.61L1488.2 2345.47L1490.2 2343.35L1492.2 2341.22L1494.2 2339.1L1496.2 2336.98L1498.2 2334.86L1500.21 2332.75L1502.21 2330.63L1504.21 2328.52L1506.21 2326.42L1508.21 2324.31L1510.21 2322.21L1512.21 2320.11L1514.21 2318.02L1516.21 2315.92L1518.21 2313.83L1520.21 2311.75L1522.21 2309.66L1524.21 2307.58L1526.21 2305.5L1528.21 2303.42L1530.21 2301.35L1532.21 2299.28L1534.21 2297.21L1536.21 2295.14L1538.21 2293.08L1540.21 2291.01L1542.21 2288.95L1544.21 2286.9L1546.21 2284.84L1548.21 2282.79L1550.21 2280.75L1552.21 2278.7L1554.21 2276.66L1556.21 2274.61L1558.21 2272.58L1560.22 2270.54L1562.22 2268.51L1564.22 2266.48L1566.22 2264.45L1568.22 2262.42L1570.22 2260.4L1572.22 2258.38L1574.22 2256.36L1576.22 2254.34L1578.22 2252.33L1580.22 2250.32L1582.22 2248.31L1584.22 2246.31L1586.22 2244.3L1588.22 2242.3L1590.22 2240.3L1592.22 2238.31L1594.22 2236.31L1596.22 2234.32L1598.22 2232.33L1600.22 2230.35L1602.22 2228.36L1604.22 2226.38L1606.22 2224.4L1608.22 2222.42L1610.22 2220.45L1612.22 2218.48L1614.22 2216.51L1616.22 2214.54L1618.22 2212.57L1620.23 2210.61L1622.23 2208.65L1624.23 2206.69L1626.23 2204.73L1628.23 2202.78L1630.23 2200.83L1632.23 2198.88L1634.23 2196.93L1636.23 2194.99L1638.23 2193.05L1640.23 2191.1L1642.23 2189.17L1644.23 2187.23L1646.23 2185.3L1648.23 2183.37L1650.23 2181.44L1652.23 2179.51L1654.23 2177.58L1656.23 2175.66L1658.23 2173.74L1660.23 2171.82L1662.23 2169.91L1664.23 2167.99L1666.23 2166.08L1668.23 2164.17L1670.23 2162.26L1672.23 2160.36L1674.23 2158.45L1676.23 2156.55L1678.23 2154.65L1680.24 2152.76L1682.24 2150.86L1684.24 2148.97L1686.24 2147.08L1688.24 2145.19L1690.24 2143.3L1692.24 2141.41L1694.24 2139.53L1696.24 2137.65L1698.24 2135.77L1700.24 2133.89L1702.24 2132.02L1704.24 2130.15L1706.24 2128.28L1708.24 2126.41L1710.24 2124.54L1712.24 2122.67L1714.24 2120.81L1716.24 2118.95L1718.24 2117.09L1720.24 2115.23L1722.24 2113.38L1724.24 2111.52L1726.24 2109.67L1728.24 2107.82L1730.24 2105.97L1732.24 2104.13L1734.24 2102.28L1736.24 2100.44L1738.24 2098.6L1740.25 2096.76L1742.25 2094.92L1744.25 2093.09L1746.25 2091.25L1748.25 2089.42L1750.25 2087.59L1752.25 2085.76L1754.25 2083.93L1756.25 2082.11L1758.25 2080.29L1760.25 2078.46L1762.25 2076.64L1764.25 2074.83L1766.25 2073.01L1768.25 2071.2L1770.25 2069.38L1772.25 2067.57L1774.25 2065.76L1776.25 2063.95L1778.25 2062.15L1780.25 2060.34L1782.25 2058.54L1784.25 2056.74L1786.25 2054.94L1788.25 2053.14L1790.25 2051.34L1792.25 2049.55L1794.25 2047.75L1796.25 2045.96L1798.25 2044.17L1800.26 2042.38L1802.26 2040.59L1804.26 2038.8L1806.26 2037.02L1808.26 2035.24L1810.26 2033.45L1812.26 2031.67L1814.26 2029.9L1816.26 2028.12L1818.26 2026.34L1820.26 2024.57L1822.26 2022.79L1824.26 2021.02L1826.26 2019.25L1828.26 2017.48L1830.26 2015.71L1832.26 2013.95L1834.26 2012.18L1836.26 2010.42L1838.26 2008.66L1840.26 2006.9L1842.26 2005.14L1844.26 2003.38L1846.26 2001.62L1848.26 1999.87L1850.26 1998.11L1852.26 1996.36L1854.26 1994.6L1856.26 1992.85L1858.26 1991.1L1860.27 1989.36L1862.27 1987.61L1864.27 1985.86L1866.27 1984.12L1868.27 1982.37L1870.27 1980.63L1872.27 1978.89L1874.27 1977.15L1876.27 1975.41L1878.27 1973.67L1880.27 1971.94L1882.27 1970.2L1884.27 1968.46L1886.27 1966.73L1888.27 1965L1890.27 1963.27L1892.27 1961.54L1894.27 1959.81L1896.27 1958.08L1898.27 1956.35L1900.27 1954.62L1902.27 1952.9L1904.27 1951.17L1906.27 1949.45L1908.27 1947.73L1910.27 1946L1912.27 1944.28L1914.27 1942.56L1916.27 1940.84L1918.27 1939.13L1920.28 1937.41L1922.28 1935.69L1924.28 1933.98L1926.28 1932.26L1928.28 1930.55L1930.28 1928.83L1932.28 1927.12L1934.28 1925.41L1936.28 1923.7L1938.28 1921.99L1940.28 1920.28L1942.28 1918.57L1944.28 1916.86L1946.28 1915.16L1948.28 1913.45L1950.28 1911.75L1952.28 1910.04L1954.28 1908.34L1956.28 1906.63L1958.28 1904.93L1960.28 1903.23L1962.28 1901.53L1964.28 1899.82L1966.28 1898.12L1968.28 1896.42L1970.28 1894.72L1972.28 1893.03L1974.28 1891.33L1976.28 1889.63L1978.28 1887.93L1980.29 1886.24L1982.29 1884.54L1984.29 1882.84L1986.29 1881.15L1988.29 1879.45L1990.29 1877.76L1992.29 1876.07L1994.29 1874.37L1996.29 1872.68L1998.29 1870.99L2000.29 1869.29L2002.29 1867.6L2004.29 1865.91L2006.29 1864.22L2008.29 1862.53L2010.29 1860.84L2012.29 1859.15L2014.29 1857.46L2016.29 1855.77L2018.29 1854.08L2020.29 1852.39L2022.29 1850.7L2024.29 1849.01L2026.29 1847.33L2028.29 1845.64L2030.29 1843.95L2032.29 1842.26L2034.29 1840.57L2036.29 1838.89L2038.29 1837.2L2040.3 1835.51L2042.3 1833.83L2044.3 1832.14L2046.3 1830.45L2048.3 1828.77L2050.3 1827.08L2052.3 1825.39L2054.3 1823.71L2056.3 1822.02L2058.3 1820.33L2060.3 1818.65L2062.3 1816.96L2064.3 1815.27L2066.3 1813.59L2068.3 1811.9" stroke="#ea1520" stroke-width="3.6" stroke-dasharray="5.2 11.39" stroke-dashoffset="6.65"/>
</g>
<g font-family='"Liberation Sans", "DejaVu Sans", sans-serif' font-size="66.3" fill="#4d4e50">
<text transform="translate(268.8 3267) scale(1 1.021)" text-anchor="middle">0</text>
<text transform="translate(628.46 3267) scale(1 1.021)" text-anchor="middle">100</text>
<text transform="translate(988.12 3267) scale(1 1.021)" text-anchor="middle">200</text>
<text transform="translate(1347.78 3267) scale(1 1.021)" text-anchor="middle">300</text>
<text transform="translate(1707.44 3267) scale(1 1.021)" text-anchor="middle">400</text>
<text transform="translate(2067.1 3267) scale(1 1.021)" text-anchor="middle">500</text>
<text transform="translate(247.8 3203.8) scale(1 1.021)" text-anchor="end">0</text>
<text transform="translate(244.9 2967.63) scale(1 1.021)" text-anchor="end">0.2</text>
<text transform="translate(244.9 2731.47) scale(1 1.021)" text-anchor="end">0.4</text>
<text transform="translate(244.9 2495.3) scale(1 1.021)" text-anchor="end">0.6</text>
<text transform="translate(244.9 2259.13) scale(1 1.021)" text-anchor="end">0.8</text>
<text transform="translate(248.9 2022.97) scale(1 1.021)" text-anchor="end">1</text>
<text transform="translate(244.9 1786.8) scale(1 1.021)" text-anchor="end">1.2</text>
</g>
<text font-family='"Liberation Sans", "DejaVu Sans", sans-serif' fill="#4d4e50"><tspan x="1020.78" y="3354.86" font-size="76.24" textLength="51.63" lengthAdjust="spacingAndGlyphs">U</tspan> <tspan x="1092.64" y="3353.62" font-size="72.2" textLength="17.76" lengthAdjust="spacingAndGlyphs">[</tspan><tspan x="1113.61" y="3354.5" font-size="72.66" textLength="58.85" lengthAdjust="spacingAndGlyphs">m</tspan><tspan x="1173.92" y="3354.5" font-size="72.66" textLength="58.73" lengthAdjust="spacingAndGlyphs">m</tspan><tspan x="1235.6" y="3353.81" font-size="70.94" textLength="22.2" lengthAdjust="spacingAndGlyphs">/</tspan><tspan x="1255.77" y="3355.27" font-size="74.31" textLength="34.63" lengthAdjust="spacingAndGlyphs">s</tspan><tspan x="1291.9" y="3353.62" font-size="72.2" textLength="17.62" lengthAdjust="spacingAndGlyphs">]</tspan></text>
<rect x="412.5" y="1881.5" width="571" height="363" fill="#fff" stroke="#231f20" stroke-width="3" shape-rendering="crispEdges"/>
<g fill="none" stroke-width="3">
<path d="M429 1947.5H554.2" stroke="#0a6cb5" stroke-dasharray="42.22 24.13" shape-rendering="crispEdges"/>
<path d="M429 2063.5H554.2" stroke="#000" shape-rendering="crispEdges"/>
<path d="M429 2179.5H554.2" stroke="#ea1520" stroke-dasharray="5.2 11.39" shape-rendering="crispEdges"/>
</g>
<g font-family='"Liberation Sans", "DejaVu Sans", sans-serif' font-size="59.55" fill="#231f20" stroke="#231f20" stroke-width="0.5">
<text transform="translate(568.99 1963.1) scale(1 1.03)">v<tspan font-size="47.64" dx="2.71" dy="27.96">x</tspan><tspan dy="-27.96"> </tspan><tspan dy="4.85">=</tspan><tspan dy="-4.85"> </tspan><tspan dx="1.3">1 s</tspan><tspan font-size="47.64" dx="1.8" dy="-28.54">-1</tspan></text>
<text transform="translate(568.99 2079.1) scale(1 1.03)">v<tspan font-size="47.64" dx="2.71" dy="27.96">x</tspan><tspan dy="-27.96"> </tspan><tspan dy="4.85">=</tspan><tspan dy="-4.85"> </tspan><tspan dx="1.3">0.01 s</tspan><tspan font-size="47.64" dx="1.8" dy="-28.54">-1</tspan></text>
<text transform="translate(568.99 2195.1) scale(1 1.03)">v<tspan font-size="47.64" dx="2.71" dy="27.96">x</tspan><tspan dy="-27.96"> </tspan><tspan dy="4.85">=</tspan><tspan dy="-4.85"> </tspan><tspan dx="1.3">0.0001 s</tspan><tspan font-size="47.64" dx="1.8" dy="-28.54">-1</tspan></text>
</g>
<text font-family='"Liberation Sans", "DejaVu Sans", sans-serif' fill="#0a0a0a"><tspan x="2121.7" y="1838.42" font-size="82.01" textLength="23.61" lengthAdjust="spacingAndGlyphs">(</tspan><tspan x="2149.41" y="1838.7" font-size="86.77" textLength="56.02" lengthAdjust="spacingAndGlyphs">B</tspan><tspan x="2208.78" y="1838.42" font-size="82.01" textLength="23.61" lengthAdjust="spacingAndGlyphs">)</tspan></text>
<g transform="translate(0 2700) rotate(-90)" fill="#4d4e50">
<rect x="160.9" y="78.2" width="132.1" height="3.6"/>
<text font-family='"Liberation Serif", "DejaVu Serif", serif' fill="#4d4e50"><tspan x="39.86" y="97.6" font-size="76.97" textLength="49.02" lengthAdjust="spacingAndGlyphs">F</tspan><tspan x="92.4" y="115.66" font-size="111.59" textLength="28.4" lengthAdjust="spacingAndGlyphs">/</tspan><tspan x="128.13" y="99.22" font-size="82.33" textLength="23.99" lengthAdjust="spacingAndGlyphs">(</tspan><tspan x="162.49" y="68.4" font-family='"Liberation Serif", "DejaVu Serif", serif' font-style="italic" font-size="50.88" textLength="23.24" lengthAdjust="spacingAndGlyphs">k</tspan><tspan x="189.06" y="75.58" font-family='"Liberation Serif", "DejaVu Serif", serif' font-style="italic" font-size="40.44" textLength="28.77" lengthAdjust="spacingAndGlyphs">B</tspan><tspan x="218.54" y="67.7" font-family='"Liberation Serif", "DejaVu Serif", serif' font-style="italic" font-size="52.84" textLength="34.49" lengthAdjust="spacingAndGlyphs">T</tspan><tspan x="261.08" y="67.7" font-family='"Liberation Serif", "DejaVu Serif", serif' font-style="italic" font-size="52.84" textLength="32.16" lengthAdjust="spacingAndGlyphs">L</tspan><tspan x="198.63" y="125.8" font-family='"Liberation Serif", "DejaVu Serif", serif' font-style="italic" font-size="52.69" textLength="37.49" lengthAdjust="spacingAndGlyphs">R</tspan><tspan x="235.61" y="107.6" font-size="38.51" textLength="19.21" lengthAdjust="spacingAndGlyphs">2</tspan><tspan x="235.04" y="143.52" font-size="39.27" textLength="19.11" lengthAdjust="spacingAndGlyphs">0</tspan><tspan x="303.2" y="99.27" font-size="82.11" textLength="23.73" lengthAdjust="spacingAndGlyphs">)</tspan> <tspan x="359.81" y="100.18" font-family='"Liberation Sans", "DejaVu Sans", sans-serif' font-size="79.87" textLength="14.4" lengthAdjust="spacingAndGlyphs">[</tspan><tspan x="371.61" y="100.36" font-family='"Liberation Sans", "DejaVu Sans", sans-serif' font-size="69.12" textLength="27.69" lengthAdjust="spacingAndGlyphs">-</tspan><tspan x="400" y="100.18" font-family='"Liberation Sans", "DejaVu Sans", sans-serif' font-size="79.87" textLength="14.26" lengthAdjust="spacingAndGlyphs">]</tspan></text>
</g>
<g fill="#fff"><rect x="217.5" y="1285" width="12.3" height="7.5"/><rect x="236.2" y="1285" width="12.3" height="7.5"/><rect x="580.5" y="1550" width="13.3" height="7.5"/><rect x="599.2" y="1550" width="12.3" height="7.5"/><rect x="156.5" y="1781" width="13.3" height="7.5"/><rect x="175.2" y="1781" width="12.3" height="7.5"/><rect x="215.5" y="2017" width="13.3" height="7.5"/><rect x="234.2" y="2017" width="12.3" height="7.5"/><rect x="576.5" y="3261" width="13.3" height="7.5"/><rect x="596.2" y="3261" width="12.3" height="7.5"/><rect x="796.5" y="221" width="9.3" height="6.5"/><rect x="811.2" y="221" width="9.3" height="6.5"/><rect x="700.5" y="249" width="11.3" height="7.5"/><rect x="718.2" y="249" width="11.3" height="7.5"/><rect x="878.5" y="337" width="10.3" height="6.5"/><rect x="893.2" y="337" width="9.3" height="6.5"/><rect x="782.5" y="365" width="12.3" height="7.5"/><rect x="801.2" y="365" width="11.3" height="7.5"/><rect x="945.5" y="453" width="9.3" height="6.5"/><rect x="960.2" y="453" width="9.3" height="6.5"/><rect x="848.5" y="481" width="12.3" height="7.5"/><rect x="867.2" y="481" width="11.3" height="7.5"/><rect x="793.5" y="1929" width="9.3" height="6.5"/><rect x="808.2" y="1929" width="9.3" height="6.5"/><rect x="697.5" y="1957" width="11.3" height="7.5"/><rect x="715.2" y="1957" width="11.3" height="7.5"/><rect x="876.5" y="2045" width="9.3" height="6.5"/><rect x="891.2" y="2045" width="9.3" height="6.5"/><rect x="779.5" y="2073" width="12.3" height="7.5"/><rect x="798.2" y="2073" width="11.3" height="7.5"/><rect x="942.5" y="2161" width="9.3" height="6.5"/><rect x="957.2" y="2161" width="9.3" height="6.5"/><rect x="846.5" y="2189" width="11.3" height="7.5"/><rect x="864.2" y="2189" width="11.3" height="7.5"/></g>
</svg></body></html>
